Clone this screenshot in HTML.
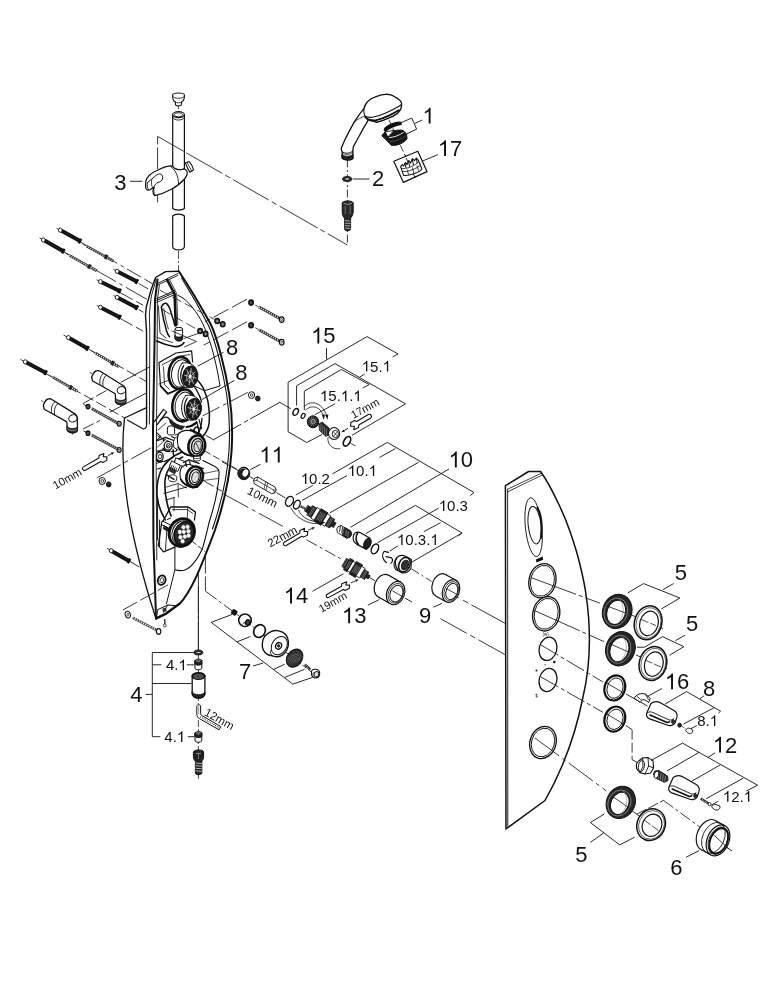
<!DOCTYPE html>
<html><head><meta charset="utf-8"><title>Exploded view</title>
<style>
html,body{margin:0;padding:0;background:#fff;}
body{width:777px;height:1000px;overflow:hidden;font-family:"Liberation Sans",sans-serif;}
svg{display:block;font-family:"Liberation Sans",sans-serif;}
svg{will-change:transform;filter:grayscale(1);}
</style></head><body>
<svg width="777" height="1000" viewBox="0 0 777 1000">
<rect width="777" height="1000" fill="#fff"/>
<path d="M172.6 95 C172.6 92.4 184.4 92.4 184.4 95 L184.2 98.5 C183.5 100.8 182.3 101.5 181.6 102 L181.3 105 C180.5 106.2 176.3 106.2 175.6 105 L175.3 102 C174.5 101.5 173.3 100.8 172.8 98.5 Z" stroke="#111" stroke-width="1.1" fill="#fff" stroke-linejoin="round" stroke-linecap="round" />
<path d="M172.8 96.5 C174 99 183 99 184.3 96.5" stroke="#111" stroke-width="0.8" fill="none" stroke-linejoin="round" stroke-linecap="round" />
<path d="M175.3 102 C176.5 103.2 180.5 103.2 181.6 102" stroke="#111" stroke-width="0.8" fill="none" stroke-linejoin="round" stroke-linecap="round" />
<line x1="178.4" y1="106" x2="178.4" y2="112" stroke="#222" stroke-width="0.8" stroke-linecap="butt" stroke-dasharray="3 2"/>
<path d="M172.7 114.5 L172.7 208.5 C175 210.6 182 210.6 184.4 208.5 L184.4 114.5" stroke="#111" stroke-width="1.2" fill="#fff" stroke-linejoin="round" stroke-linecap="round" />
<ellipse cx="178.5" cy="114.6" rx="5.85" ry="3" stroke="#111" stroke-width="1.2" fill="#fff"/>
<ellipse cx="178.5" cy="114.8" rx="4.2" ry="2" stroke="#111" stroke-width="0.8" fill="none"/>
<path d="M172.7 117.5 C174 121 183 121 184.4 117.5" stroke="#111" stroke-width="0.9" fill="none" stroke-linejoin="round" stroke-linecap="round" />
<path d="M172.7 216 C175 213.4 182 213.4 184.4 216 L184.4 246.5 C184 251 173 251 172.7 246.5 Z" stroke="#111" stroke-width="1.2" fill="#fff" stroke-linejoin="round" stroke-linecap="round" />
<line x1="157.6" y1="136.4" x2="157.6" y2="203" stroke="#222" stroke-width="0.9" stroke-linecap="butt" stroke-dasharray="8 3 22 3 30"/>
<path d="M157.6 136.4 L347.4 245" stroke="#222" stroke-width="0.9" fill="none" stroke-linejoin="round" stroke-linecap="butt" stroke-dasharray="30 3 41.5 3.5 5.5 3.5 41 3.5 5.5 3.5 44 3 5 3.5 30" />
<path d="M145.8 181 C147 177 152 172.5 158 170 C164 167 169 165.6 172.5 166 L173 167 C175 169.8 181 170.5 184.2 168.8 L186.6 170.5 C188 173 187 176 184.5 179 C178 186.5 166 193.5 154.5 195.6 C153 193.5 152.8 190 153.8 187.2 L150 189.8 C147.5 190.8 146 189.5 145.6 187 Z" stroke="#111" stroke-width="1.2" fill="#fff" stroke-linejoin="round" stroke-linecap="round" />
<path d="M170.5 166.5 C175 169 178.8 176 178.5 184.5" stroke="#111" stroke-width="0.9" fill="none" stroke-linejoin="round" stroke-linecap="round" />
<path d="M172.6 166.3 C174 169.5 181 170.8 184.4 168.6" stroke="#111" stroke-width="0.9" fill="none" stroke-linejoin="round" stroke-linecap="round" />
<path d="M153.8 187.2 C154.5 185 156 183.2 158 182.4 C161.5 182 163.6 178.5 162.4 175.8 C161 173 157.5 173.6 155.5 176 L147.5 182.5" stroke="#111" stroke-width="1.0" fill="none" stroke-linejoin="round" stroke-linecap="round" />
<path d="M147.5 182.5 C146.8 185 147.2 188 148.6 189.6" stroke="#111" stroke-width="0.9" fill="none" stroke-linejoin="round" stroke-linecap="round" />
<path d="M151.8 179.5 C151 182.5 151.5 186 152.6 188" stroke="#111" stroke-width="0.8" fill="none" stroke-linejoin="round" stroke-linecap="round" />
<path d="M154.7 195.5 C153.6 193 153.4 190 154.2 187.4" stroke="#111" stroke-width="0.9" fill="none" stroke-linejoin="round" stroke-linecap="round" />
<path d="M185.3 163 L189.3 161.6 C191 163.5 193 167 193.6 169.8 L189.8 172.2 C188.8 170.5 186.6 166 185.3 163 Z" stroke="#111" stroke-width="1.1" fill="#fff" stroke-linejoin="round" stroke-linecap="round" />
<path d="M187 162.4 C188.5 165 190.5 168.5 191.6 171" stroke="#111" stroke-width="0.8" fill="none" stroke-linejoin="round" stroke-linecap="round" />
<line x1="130" y1="181.3" x2="142.4" y2="181.3" stroke="#111" stroke-width="0.9" stroke-linecap="butt"/>
<line x1="178.5" y1="251" x2="178.5" y2="272" stroke="#222" stroke-width="0.8" stroke-linecap="butt" stroke-dasharray="8 2 2 2"/>
<path d="M364 108.3 C364.6 106 365.6 104 366.9 102.5 C369 99.6 372 98 375.5 96.8 C378.6 95.4 382 94.5 385.2 94.3 C388.6 94 392 94.8 394.8 96.8 C397.4 98 399.4 99.4 400.6 101.1 C401.4 102.2 401.7 103.4 401.6 104.5 L401 108.6 C400 110.6 398.8 112 397.7 113.2 C394 116 391 117.4 389 118 C384 120.2 380 121.6 376.5 122.3 L374.6 121.4 C372 121.2 369.6 120.4 367.8 119.4 L367.8 120.9 C364.6 126 361.8 131 359.1 136.3 C357 140 355 143.6 353.3 146.9 L352.9 150.8 L352.9 158.6 C351 160.6 344 160.4 342.2 158.4 L342.2 151.8 C341.4 150.6 341.2 149.2 341.3 147.9 C342.4 145.4 343.6 142.6 344.7 140.2 C347.6 134 351 128 354.3 121.9 C357.4 117 360.6 112.4 364 108.3 Z" stroke="#111" stroke-width="1.3" fill="#fff" stroke-linejoin="round" stroke-linecap="round" />
<path d="M364 108.3 C363.4 111 363.8 113.8 364.9 116.1 C367.6 117.6 370.6 117.6 373.6 117 C377.6 116.2 381.6 114.8 385.2 113.2 C389.2 111.4 393.2 109.4 396.8 107.4 C398.6 106.4 400.4 105.4 401.6 104.5" stroke="#111" stroke-width="1.1" fill="none" stroke-linejoin="round" stroke-linecap="round" />
<path d="M365.4 117.2 C366.2 118.2 367 118.8 367.8 119.2 C370.2 120.2 372.8 120.6 375.5 120.4 C380 119.4 384.6 117.6 389 115.6 C392.4 114 395.6 112.2 398.7 110.3" stroke="#111" stroke-width="1.9" fill="none" stroke-linejoin="round" stroke-linecap="round" />
<path d="M374.6 121.4 L376.5 122.3 C380.6 121.4 385 119.8 389 118 C392 116.6 395 115 397.7 113.2" stroke="#111" stroke-width="0.9" fill="none" stroke-linejoin="round" stroke-linecap="round" />
<path d="M364.9 116.1 C361 117.4 357.4 119.4 354.3 121.9" stroke="#111" stroke-width="0.8" fill="none" stroke-linejoin="round" stroke-linecap="round" />
<path d="M342.2 151.8 C345 154 350.4 153.8 352.9 150.8" stroke="#111" stroke-width="1.0" fill="none" stroke-linejoin="round" stroke-linecap="round" />
<path d="M342.2 155 C345 157 350.6 156.8 352.9 154.4 L352.9 158.6 C351 160.6 344 160.4 342.2 158.4 Z" stroke="#111" stroke-width="1.0" fill="#222" stroke-linejoin="round" stroke-linecap="round" />
<path d="M342.2 153.2 C345 155.2 350.4 155 352.9 152.6" stroke="#111" stroke-width="0.7" fill="none" stroke-linejoin="round" stroke-linecap="round" />
<line x1="347.4" y1="159.5" x2="347.4" y2="245" stroke="#222" stroke-width="0.9" stroke-linecap="butt" stroke-dasharray="8 2.5 2 2.5"/>
<ellipse cx="347.2" cy="179" rx="4.7" ry="2.5" stroke="#111" stroke-width="0.8" fill="#2a2a2a"/>
<ellipse cx="347.2" cy="179" rx="2.2" ry="0.9" stroke="#111" stroke-width="0.5" fill="#fff"/>
<line x1="353" y1="179" x2="369.5" y2="179" stroke="#111" stroke-width="0.9" stroke-linecap="butt"/>
<path d="M342.2 203 C342.2 200.2 353.2 200.2 353.2 203 L353.2 212 C353 215 351.5 217 350.6 218.2 L350.6 229.5 C349.5 231.2 345.5 231.2 344.6 229.5 L344.6 218.2 C343.5 217 342.2 215 342.2 212 Z" stroke="#111" stroke-width="1.0" fill="#2a2a2a" stroke-linejoin="round" stroke-linecap="round" />
<line x1="344.6" y1="220.5" x2="350.6" y2="221.1" stroke="#ddd" stroke-width="0.7" stroke-linecap="butt"/>
<line x1="344.6" y1="223" x2="350.6" y2="223.6" stroke="#ddd" stroke-width="0.7" stroke-linecap="butt"/>
<line x1="344.6" y1="225.5" x2="350.6" y2="226.1" stroke="#ddd" stroke-width="0.7" stroke-linecap="butt"/>
<line x1="344.6" y1="228" x2="350.6" y2="228.6" stroke="#ddd" stroke-width="0.7" stroke-linecap="butt"/>
<path d="M344 203.5 C346 204.6 349.5 204.6 351.5 203.5" stroke="#ccc" stroke-width="0.7" fill="none" stroke-linejoin="round" stroke-linecap="round" />
<line x1="345.2" y1="206" x2="345.2" y2="214" stroke="#999" stroke-width="0.6" stroke-linecap="butt"/>
<line x1="350.2" y1="206" x2="350.2" y2="214" stroke="#999" stroke-width="0.6" stroke-linecap="butt"/>
<line x1="388.9" y1="119.7" x2="415" y2="177.7" stroke="#222" stroke-width="0.9" stroke-linecap="butt" stroke-dasharray="7 2.5 2 2.5"/>
<path d="M384.2 129.4 C386 125.6 396 121.4 400.8 122.4 L401.2 124.4 C397 124.6 388 128.4 385.4 131.6 Z" stroke="#111" stroke-width="1.2" fill="#111" stroke-linejoin="round" stroke-linecap="round" />
<path d="M385.4 131.8 L394 130.4 L394.2 134.4 L387.8 137.4 L382.4 135.6 Z" stroke="#111" stroke-width="0.9" fill="#fff" stroke-linejoin="round" stroke-linecap="round" />
<path d="M382.2 135.6 L385.4 132 L387.8 137.2 C392 137.4 400 134 403 130.4 L406.6 134 L407 138.8 C405 141.6 401.6 143.6 399 144.4 C396 145.4 393 145.6 391 145.2 L389.8 143.6 Z" stroke="#111" stroke-width="1.0" fill="#161616" stroke-linejoin="round" stroke-linecap="round" />
<path d="M394 130.6 C397 130 401 129.6 403 130.4 L403.2 132 C400 135.2 392 137.6 388 137.2 Z" stroke="#111" stroke-width="0.8" fill="#161616" stroke-linejoin="round" stroke-linecap="round" />
<path d="M389.6 137.6 C394 137.4 400 135 403.2 132.6" stroke="#fff" stroke-width="0.9" fill="none" stroke-linejoin="round" stroke-linecap="round" />
<path d="M390.4 141.6 C395 141.6 402 138.6 406.2 135.6" stroke="#777" stroke-width="0.5" fill="none" stroke-linejoin="round" stroke-linecap="round" />
<path d="M400.8 122.8 L411.8 118 L416.6 129.2 L407.2 133.6" stroke="#111" stroke-width="0.9" fill="none" stroke-linejoin="round" stroke-linecap="round" />
<line x1="414.6" y1="123.6" x2="422.2" y2="120" stroke="#111" stroke-width="0.9" stroke-linecap="butt"/>
<path d="M393.8 161.2 L417.8 151.2 L427 171.6 L403.4 182.4 Z" stroke="#111" stroke-width="1.2" fill="none" stroke-linejoin="round" stroke-linecap="round" />
<line x1="405.4" y1="155" x2="406.2" y2="157" stroke="#111" stroke-width="1.0" stroke-linecap="butt"/>
<line x1="414.6" y1="175.8" x2="415.4" y2="177.8" stroke="#111" stroke-width="1.0" stroke-linecap="butt"/>
<path d="M400.6 166.6 L402.2 164.6 L403.6 166 L405.4 162.6 L407 164.6 L408.8 160.6 L410.6 163 L412.4 158.6 L414.4 160.6 L416.4 158 L418.4 160.4 L421.8 168.8 C421 171.6 409 176.4 403.6 175.4 Z" stroke="#111" stroke-width="1.1" fill="#fff" stroke-linejoin="round" stroke-linecap="round" />
<path d="M401.6 168.4 C406 169.6 415 166 418.8 161.6" stroke="#111" stroke-width="0.8" fill="none" stroke-linejoin="round" stroke-linecap="round" />
<path d="M402.4 171.4 C407 172.6 417 168.6 420.6 165" stroke="#111" stroke-width="0.8" fill="none" stroke-linejoin="round" stroke-linecap="round" />
<line x1="407.2" y1="169.6" x2="408.6" y2="174.8" stroke="#111" stroke-width="0.8" stroke-linecap="butt"/>
<line x1="412.4" y1="167.6" x2="413.8" y2="173" stroke="#111" stroke-width="0.8" stroke-linecap="butt"/>
<line x1="417" y1="165.4" x2="418.4" y2="170.6" stroke="#111" stroke-width="0.8" stroke-linecap="butt"/>
<path d="M405 163.4 L406 167.6 M408.6 161.6 L409.6 166.4 M412.4 159.6 L413.4 164.6 M416.4 159 L417.2 163" stroke="#111" stroke-width="1.0" fill="none" stroke-linejoin="round" stroke-linecap="round" />
<line x1="422.2" y1="161.2" x2="438" y2="154.6" stroke="#111" stroke-width="0.9" stroke-linecap="butt"/>
<path d="M146.6 407.7 L124.5 418 C122 440 122.5 470 127 500 C131 530 139 562 148.6 595 C151 603 154 612 156 618.8" stroke="#111" stroke-width="1.3" fill="none" stroke-linejoin="round" stroke-linecap="round" />
<path d="M127.3 420 L143.4 429 C145.5 428.6 146.6 427 146.6 424.5" stroke="#111" stroke-width="1.1" fill="none" stroke-linejoin="round" stroke-linecap="round" />
<path d="M178.8 271.3 L165.7 271.6 L155.6 277.5 L151 290 L146.3 307 L145.5 315 L146.5 332 L146.6 424.5" stroke="#111" stroke-width="1.4" fill="none" stroke-linejoin="round" stroke-linecap="round" />
<path d="M156.2 279 L151.4 296 L149.4 313 L149.8 335 L149.4 424" stroke="#111" stroke-width="0.9" fill="none" stroke-linejoin="round" stroke-linecap="round" />
<path d="M157.6 279.5 L155 300 L154.6 340 L153 430 L153.4 540 L156 617" stroke="#111" stroke-width="2.0" fill="none" stroke-linejoin="round" stroke-linecap="round" />
<path d="M159.4 285 L157.4 300 L157.2 345 L156.2 470 L156.8 560" stroke="#111" stroke-width="0.9" fill="none" stroke-linejoin="round" stroke-linecap="round" />
<path d="M178.8 271.3 C188 285 199 303 210.6 324 C217 337 225 368 229.2 393.8 C232 412 233 430 231.5 452 C229.5 480 224 503 215 530 C209 546 202 564 196.5 576.3 C191 588 186 597 179.5 604 L165.6 614.2 L156 618.8" stroke="#111" stroke-width="2.0" fill="none" stroke-linejoin="round" stroke-linecap="round" />
<path d="M181.6 278 C190 291.5 198 305 208 324.6 C214.4 338 222.4 368 226.6 394 C229.4 412 230.4 430 228.9 452 C226.9 479.6 221.5 502.4 212.5 529" stroke="#111" stroke-width="1.1" fill="none" stroke-linejoin="round" stroke-linecap="round" />
<path d="M157.5 283.5 L178 273.4" stroke="#111" stroke-width="0.9" fill="none" stroke-linejoin="round" stroke-linecap="round" />
<path d="M155.8 286 L177.5 275.5" stroke="#111" stroke-width="0.9" fill="none" stroke-linejoin="round" stroke-linecap="round" />
<path d="M156.8 298.6 L174.7 290.6" stroke="#111" stroke-width="1.0" fill="none" stroke-linejoin="round" stroke-linecap="round" />
<path d="M156.8 300.4 L174.7 292.4" stroke="#111" stroke-width="1.0" fill="none" stroke-linejoin="round" stroke-linecap="round" />
<path d="M156.8 302.4 L174.4 294.6" stroke="#111" stroke-width="0.9" fill="none" stroke-linejoin="round" stroke-linecap="round" />
<path d="M178 295.3 C184 298 188 302 192 307 C197 313 200 318 202.9 324 C208 335 211.5 346 213.7 355 C216.5 366 218.5 376 220 386 L204.4 390.7 L192.5 385" stroke="#111" stroke-width="1.0" fill="none" stroke-linejoin="round" stroke-linecap="round" />
<path d="M167.2 280 L174.6 294 L175.8 325.4" stroke="#111" stroke-width="2.6" fill="none" stroke-linejoin="round" stroke-linecap="round" />
<path d="M169.4 279.4 L176.6 293.4 L177.8 325" stroke="#111" stroke-width="0.8" fill="none" stroke-linejoin="round" stroke-linecap="round" />
<path d="M161.4 307.3 C162.4 304 164.6 302.6 166.4 303.4 C168.6 305.4 170.4 309.6 171.3 313.6 C172.8 318 174 322 174.7 325.2" stroke="#111" stroke-width="1.5" fill="none" stroke-linejoin="round" stroke-linecap="round" />
<path d="M161.4 307.3 C162.6 316 164.6 324.6 166.6 331 C167.4 333.6 168.4 335.4 169.5 336.8" stroke="#111" stroke-width="1.5" fill="none" stroke-linejoin="round" stroke-linecap="round" />
<path d="M163.8 308.6 C164.8 316 166.4 323 168.4 329" stroke="#111" stroke-width="0.8" fill="none" stroke-linejoin="round" stroke-linecap="round" />
<path d="M158.4 306 L160 333 L166 338" stroke="#111" stroke-width="0.9" fill="none" stroke-linejoin="round" stroke-linecap="round" />
<path d="M175 329 C175 327 182.6 327 182.6 329 L182.6 338 C182.6 340.5 175 340.5 175 338 Z" stroke="#111" stroke-width="1.0" fill="#fff" stroke-linejoin="round" stroke-linecap="round" />
<path d="M175 335.5 C176 337.6 181.5 337.6 182.6 335.5 L182.6 339 C181.5 342 176 342 175 339 Z" stroke="#111" stroke-width="0.8" fill="#222" stroke-linejoin="round" stroke-linecap="round" />
<ellipse cx="178.8" cy="329" rx="3.8" ry="1.6" stroke="#111" stroke-width="0.9" fill="#fff"/>
<path d="M156.5 341 C162 343.5 168 345.5 174 346.5 C178 347 182 345.5 184 342.5" stroke="#111" stroke-width="1.6" fill="none" stroke-linejoin="round" stroke-linecap="round" />
<path d="M157 337.5 L172.5 342.5" stroke="#111" stroke-width="0.8" fill="none" stroke-linejoin="round" stroke-linecap="round" />
<path d="M184 338.5 L198 333.5" stroke="#111" stroke-width="0.8" fill="none" stroke-linejoin="round" stroke-linecap="round" />
<path d="M172 331 L196.5 341.5 L184.5 347" stroke="#111" stroke-width="0.8" fill="none" stroke-linejoin="round" stroke-linecap="round" />
<path d="M159 362.5 L176 353 L191.6 350.8 L192.6 362 M159 362.5 L160.5 386 L168 393.8 L176.5 390" stroke="#111" stroke-width="1.2" fill="none" stroke-linejoin="round" stroke-linecap="round" />
<path d="M162 365 L177.5 356.5 L190 354.6" stroke="#111" stroke-width="0.8" fill="none" stroke-linejoin="round" stroke-linecap="round" />
<path d="M163.5 367 L164.5 384.5 L169.5 389.5" stroke="#111" stroke-width="0.8" fill="none" stroke-linejoin="round" stroke-linecap="round" />
<path d="M159 384 L172 379" stroke="#111" stroke-width="0.8" fill="none" stroke-linejoin="round" stroke-linecap="round" />
<path d="M196.9 379.6 C201 384 203.5 388 204.6 391.5 C207 397 208.4 402 208.7 406.9 C209.6 412 209.6 418 209.2 422.4 C208.6 428 206 433 202.9 436.1" stroke="#111" stroke-width="1.5" fill="none" stroke-linejoin="round" stroke-linecap="round" />
<path d="M193.3 385.3 C195.6 388 197.2 391 198.4 393.6 C200 396.6 201 399.4 201.5 401.8" stroke="#111" stroke-width="1.3" fill="none" stroke-linejoin="round" stroke-linecap="round" />
<ellipse cx="180.0" cy="373.0" rx="11.2" ry="16" stroke="#111" stroke-width="2.6" fill="#fff" transform="rotate(8 180.0 373.0)"/>
<ellipse cx="180.79999999999998" cy="373.40000000000003" rx="9.3" ry="13.8" stroke="#111" stroke-width="1.0" fill="#fff" transform="rotate(8 180.79999999999998 373.40000000000003)"/>
<path d="M182.2 363.1 C188.2 361.6 193.2 364.6 195.2 367.6 L193.2 387.1 C188.2 388.6 182.2 387.6 180.2 384.6 C176.2 376.6 178.2 367.6 182.2 363.1 Z" stroke="#111" stroke-width="1.0" fill="#fff" stroke-linejoin="round" stroke-linecap="round" />
<path d="M183.7 365.6 C179.7 371.6 179.7 380.6 184.2 386.1" stroke="#111" stroke-width="1.2" fill="none" stroke-linejoin="round" stroke-linecap="round" />
<ellipse cx="190.2" cy="376.6" rx="7.6" ry="10.6" stroke="#111" stroke-width="1.0" fill="#1c1c1c" transform="rotate(8 190.2 376.6)"/>
<line x1="191.4" y1="376.9" x2="196.3" y2="378.1" stroke="#e8e8e8" stroke-width="0.7" stroke-linecap="butt"/>
<line x1="190.9" y1="377.9" x2="193.8" y2="383.8" stroke="#e8e8e8" stroke-width="0.7" stroke-linecap="butt"/>
<line x1="190.0" y1="378.2" x2="189.1" y2="385.3" stroke="#e8e8e8" stroke-width="0.7" stroke-linecap="butt"/>
<line x1="189.2" y1="377.5" x2="185.1" y2="381.6" stroke="#e8e8e8" stroke-width="0.7" stroke-linecap="butt"/>
<line x1="189.0" y1="376.3" x2="184.1" y2="375.1" stroke="#e8e8e8" stroke-width="0.7" stroke-linecap="butt"/>
<line x1="189.5" y1="375.3" x2="186.6" y2="369.4" stroke="#e8e8e8" stroke-width="0.7" stroke-linecap="butt"/>
<line x1="190.4" y1="375.0" x2="191.3" y2="367.9" stroke="#e8e8e8" stroke-width="0.7" stroke-linecap="butt"/>
<line x1="191.2" y1="375.7" x2="195.3" y2="371.6" stroke="#e8e8e8" stroke-width="0.7" stroke-linecap="butt"/>
<ellipse cx="190.2" cy="376.6" rx="3.6" ry="5.2" stroke="#cfcfcf" stroke-width="0.6" fill="none" transform="rotate(8 190.2 376.6)"/>
<ellipse cx="190.2" cy="376.6" rx="1.2" ry="1.6" stroke="#fff" stroke-width="0.5" fill="#fff" transform="rotate(8 190.2 376.6)"/>
<ellipse cx="183.60000000000002" cy="405.4" rx="11.2" ry="16" stroke="#111" stroke-width="2.6" fill="#fff" transform="rotate(8 183.60000000000002 405.4)"/>
<ellipse cx="184.4" cy="405.8" rx="9.3" ry="13.8" stroke="#111" stroke-width="1.0" fill="#fff" transform="rotate(8 184.4 405.8)"/>
<path d="M185.8 395.5 C191.8 394 196.8 397 198.8 400 L196.8 419.5 C191.8 421 185.8 420 183.8 417 C179.8 409 181.8 400 185.8 395.5 Z" stroke="#111" stroke-width="1.0" fill="#fff" stroke-linejoin="round" stroke-linecap="round" />
<path d="M187.3 398 C183.3 404 183.3 413 187.8 418.5" stroke="#111" stroke-width="1.2" fill="none" stroke-linejoin="round" stroke-linecap="round" />
<ellipse cx="193.8" cy="409" rx="7.6" ry="10.6" stroke="#111" stroke-width="1.0" fill="#1c1c1c" transform="rotate(8 193.8 409)"/>
<line x1="195.0" y1="409.3" x2="199.9" y2="410.5" stroke="#e8e8e8" stroke-width="0.7" stroke-linecap="butt"/>
<line x1="194.5" y1="410.3" x2="197.4" y2="416.2" stroke="#e8e8e8" stroke-width="0.7" stroke-linecap="butt"/>
<line x1="193.6" y1="410.6" x2="192.7" y2="417.7" stroke="#e8e8e8" stroke-width="0.7" stroke-linecap="butt"/>
<line x1="192.8" y1="409.9" x2="188.7" y2="414.0" stroke="#e8e8e8" stroke-width="0.7" stroke-linecap="butt"/>
<line x1="192.6" y1="408.7" x2="187.7" y2="407.5" stroke="#e8e8e8" stroke-width="0.7" stroke-linecap="butt"/>
<line x1="193.1" y1="407.7" x2="190.2" y2="401.8" stroke="#e8e8e8" stroke-width="0.7" stroke-linecap="butt"/>
<line x1="194.0" y1="407.4" x2="194.9" y2="400.3" stroke="#e8e8e8" stroke-width="0.7" stroke-linecap="butt"/>
<line x1="194.8" y1="408.1" x2="198.9" y2="404.0" stroke="#e8e8e8" stroke-width="0.7" stroke-linecap="butt"/>
<ellipse cx="193.8" cy="409" rx="3.6" ry="5.2" stroke="#cfcfcf" stroke-width="0.6" fill="none" transform="rotate(8 193.8 409)"/>
<ellipse cx="193.8" cy="409" rx="1.2" ry="1.6" stroke="#fff" stroke-width="0.5" fill="#fff" transform="rotate(8 193.8 409)"/>
<path d="M202 418.3 C201.8 422 201.3 425 200.5 427.5 C200 430 199.2 432 198.2 433.8" stroke="#111" stroke-width="1.3" fill="none" stroke-linejoin="round" stroke-linecap="round" />
<path d="M202.9 460.5 L214.5 466.3 C217.5 468 219.3 470 219.1 473 C218.6 490 214 507 209.5 521 C207 531 205 540 202.7 547.7 C200 554 197.5 558.5 194.4 562.1 C191 566.5 187.5 569.4 184.1 570.3 C181 571 178 570.6 174.9 569.8" stroke="#111" stroke-width="1.1" fill="none" stroke-linejoin="round" stroke-linecap="round" />
<path d="M204 473.5 L218.6 470.5 M203 480.5 L218.4 478.5" stroke="#111" stroke-width="0.7" fill="none" stroke-linejoin="round" stroke-linecap="round" />
<ellipse cx="171" cy="428" rx="3.6" ry="2.2" stroke="#111" stroke-width="1.0" fill="#fff"/>
<path d="M167.4 428 L167.4 433.5 C167.4 435.5 174.6 435.5 174.6 433.5 L174.6 428" stroke="#111" stroke-width="1.0" fill="#fff" stroke-linejoin="round" stroke-linecap="round" />
<path d="M160.5 420 C163 417 166.5 416.5 169 418.5 L172 424" stroke="#111" stroke-width="1.4" fill="none" stroke-linejoin="round" stroke-linecap="round" />
<path d="M158 430 L166 423 M157.6 436 L168 441 M157.6 447 L165 440" stroke="#111" stroke-width="0.8" fill="none" stroke-linejoin="round" stroke-linecap="round" />
<path d="M175 435 L186 432 L192 436" stroke="#111" stroke-width="0.9" fill="none" stroke-linejoin="round" stroke-linecap="round" />
<ellipse cx="196" cy="432.5" rx="2.6" ry="5.5" stroke="#111" stroke-width="1.6" fill="none" transform="rotate(12 196 432.5)"/>
<path d="M157.4 440.6 L165.4 437.4 L175 441 M157.4 452 L163.6 450 M164 461.6 L172 458 M157.6 469 L160.6 468" stroke="#111" stroke-width="1.2" fill="none" stroke-linejoin="round" stroke-linecap="round" />
<path d="M171.6 436.6 L177.4 439.6 L176.4 451 L171.6 451.6" stroke="#111" stroke-width="1.1" fill="none" stroke-linejoin="round" stroke-linecap="round" />
<path d="M163.4 438.4 L163.4 441 M173 449.6 L173.6 456" stroke="#111" stroke-width="1.4" fill="none" stroke-linejoin="round" stroke-linecap="round" />
<ellipse cx="168.2" cy="445.7" rx="4" ry="4.4" stroke="#111" stroke-width="1.3" fill="#fff"/>
<ellipse cx="168.4" cy="445.8" rx="2" ry="2.2" stroke="#111" stroke-width="0.9" fill="none"/>
<line x1="166.6" y1="444.2" x2="170" y2="447.4" stroke="#111" stroke-width="0.7" stroke-linecap="butt"/>
<line x1="170" y1="444.2" x2="166.6" y2="447.4" stroke="#111" stroke-width="0.7" stroke-linecap="butt"/>
<ellipse cx="159.8" cy="456.5" rx="3.4" ry="4.4" stroke="#111" stroke-width="1.3" fill="#fff"/>
<ellipse cx="160" cy="456.6" rx="1.6" ry="2.2" stroke="#111" stroke-width="0.9" fill="none"/>
<path d="M156.4 451 L164 449.5 M156.4 463.5 L163 461" stroke="#111" stroke-width="0.8" fill="none" stroke-linejoin="round" stroke-linecap="round" />
<path d="M178.6 433.5 C182.6 430 188.6 429.5 192.6 431.5 L201.5 437 L198.5 456.4 L188.4 455.4 C183 454 179.4 450.4 178 446.4 C177 442 177.2 437 178.6 433.5 Z" stroke="#111" stroke-width="1.3" fill="#fff" stroke-linejoin="round" stroke-linecap="round" />
<path d="M176.4 437 C173.5 438.5 172.5 443 174 447.5 L178 450" stroke="#111" stroke-width="1.0" fill="#fff" stroke-linejoin="round" stroke-linecap="round" />
<ellipse cx="196.8" cy="446" rx="8.4" ry="10.6" stroke="#111" stroke-width="2.6" fill="#fff" transform="rotate(10 196.8 446)"/>
<ellipse cx="197.2" cy="446.2" rx="5.6" ry="7.8" stroke="#111" stroke-width="1.5" fill="#fff" transform="rotate(10 197.2 446.2)"/>
<ellipse cx="197.6" cy="446.4" rx="3.6" ry="5.4" stroke="#111" stroke-width="1.0" fill="#ddd" transform="rotate(10 197.6 446.4)"/>
<path d="M195.8 442.6 L199.4 449.8" stroke="#111" stroke-width="0.8" fill="none" stroke-linejoin="round" stroke-linecap="round" />
<path d="M193.5 457 L193.5 460 C195 461.6 199 461.4 200.4 459.8 L200.4 456.5" stroke="#111" stroke-width="0.9" fill="#fff" stroke-linejoin="round" stroke-linecap="round" />
<line x1="193.5" y1="458.6" x2="200.4" y2="458.2" stroke="#111" stroke-width="0.7" stroke-linecap="butt"/>
<path d="M181.2 452.4 C172 455.6 163.6 463.6 160.2 472.5 C157.4 480 156.6 488.6 157.1 495.8 C157.8 503.4 160.2 510.4 163.3 516 L165.4 520" stroke="#111" stroke-width="1.6" fill="none" stroke-linejoin="round" stroke-linecap="round" />
<path d="M182.7 457 C177 459.4 172.4 463 169.5 467.9 C166.6 472 165.2 477 164.9 481.8 C164.6 489.6 165.6 497.4 167.2 503.5 C168.2 508 169.6 512.2 171.1 515.9" stroke="#111" stroke-width="1.6" fill="none" stroke-linejoin="round" stroke-linecap="round" />
<path d="M176 458 L186 462 L184.4 467 L174.6 463 Z" stroke="#111" stroke-width="1.0" fill="#fff" stroke-linejoin="round" stroke-linecap="round" />
<path d="M172 461 L180.5 465.5 L177.6 471.5 L169.6 467 Z" stroke="#111" stroke-width="1.0" fill="#fff" stroke-linejoin="round" stroke-linecap="round" />
<line x1="170.6" y1="468.4" x2="172.2" y2="465.0" stroke="#111" stroke-width="0.8" stroke-linecap="butt"/>
<line x1="172.2" y1="469.29999999999995" x2="173.79999999999998" y2="465.9" stroke="#111" stroke-width="0.8" stroke-linecap="butt"/>
<line x1="173.79999999999998" y1="470.2" x2="175.39999999999998" y2="466.8" stroke="#111" stroke-width="0.8" stroke-linecap="butt"/>
<line x1="175.4" y1="471.09999999999997" x2="177.0" y2="467.7" stroke="#111" stroke-width="0.8" stroke-linecap="butt"/>
<path d="M169 476 C171 474 175.5 474.5 177 477 L176.4 480.5 C174 482.5 170 482 168.6 480 Z" stroke="#111" stroke-width="0.9" fill="#fff" stroke-linejoin="round" stroke-linecap="round" />
<path d="M166.5 487 L178 483.5 L186.6 488 M178 483.5 L178.4 497" stroke="#111" stroke-width="0.8" fill="none" stroke-linejoin="round" stroke-linecap="round" />
<path d="M181.5 467.5 C184.5 464.5 189 464 192.5 465.5 L199.5 469 L197.5 487.5 L190 486.5 C185.5 485.5 182 482.5 180.6 478.5 C179.6 475 180 470.5 181.5 467.5 Z" stroke="#111" stroke-width="1.1" fill="#fff" stroke-linejoin="round" stroke-linecap="round" />
<ellipse cx="194.6" cy="476.8" rx="8.2" ry="10.4" stroke="#111" stroke-width="2.6" fill="#fff" transform="rotate(14 194.6 476.8)"/>
<ellipse cx="195" cy="477" rx="5.6" ry="7.8" stroke="#111" stroke-width="1.5" fill="#fff" transform="rotate(14 195 477)"/>
<ellipse cx="195.4" cy="477.2" rx="3.6" ry="5.4" stroke="#111" stroke-width="1.0" fill="#ddd" transform="rotate(14 195.4 477.2)"/>
<path d="M199 467 L203.4 468.6 M201.6 472 L204 472.8" stroke="#111" stroke-width="1.2" fill="none" stroke-linejoin="round" stroke-linecap="round" />
<path d="M164 493.5 L186.6 487 M166 500 L174.4 497.5" stroke="#111" stroke-width="0.9" fill="none" stroke-linejoin="round" stroke-linecap="round" />
<path d="M174 497.5 L174 511" stroke="#111" stroke-width="0.8" fill="none" stroke-linejoin="round" stroke-linecap="round" />
<path d="M170.7 507 L188.2 507 L195.5 512.1 L194.4 520 M170.7 507 L161.5 524 L158.4 545.6 L163.5 551.8 L174.9 547.1" stroke="#111" stroke-width="1.3" fill="none" stroke-linejoin="round" stroke-linecap="round" />
<path d="M172.4 509.6 L187.4 509.6 L192.6 513.4 M187.8 507.4 L187.2 519" stroke="#111" stroke-width="0.8" fill="none" stroke-linejoin="round" stroke-linecap="round" />
<path d="M161.5 524 L167 527.5 L165.5 549.5" stroke="#111" stroke-width="0.9" fill="none" stroke-linejoin="round" stroke-linecap="round" />
<path d="M167.4 519.5 L170.6 518" stroke="#111" stroke-width="1.0" fill="none" stroke-linejoin="round" stroke-linecap="round" />
<path d="M162.5 521 L170.5 525 L169 528.5 L161.6 524.6 Z" stroke="#111" stroke-width="1.0" fill="#fff" stroke-linejoin="round" stroke-linecap="round" />
<path d="M164.5 526 L171.6 529.8 L170.4 532.4 L163.8 529 Z" stroke="#111" stroke-width="1.0" fill="#222" stroke-linejoin="round" stroke-linecap="round" />
<ellipse cx="181.8" cy="532.6" rx="12.4" ry="14.2" stroke="#111" stroke-width="2.8" fill="#fff" transform="rotate(24 181.8 532.6)"/>
<ellipse cx="182.8" cy="533" rx="10.6" ry="12.6" stroke="#111" stroke-width="1.0" fill="#fff" transform="rotate(24 182.8 533)"/>
<ellipse cx="184" cy="533.6" rx="9.6" ry="12" stroke="#111" stroke-width="1.6" fill="#2a2a2a" transform="rotate(24 184 533.6)"/>
<ellipse cx="183.4" cy="527.2" rx="1.7" ry="1.9" stroke="#fff" stroke-width="0.5" fill="#fff"/>
<ellipse cx="187.6" cy="526.8000000000001" rx="1.7" ry="1.9" stroke="#fff" stroke-width="0.5" fill="#fff"/>
<ellipse cx="179.8" cy="532.0" rx="1.7" ry="1.9" stroke="#fff" stroke-width="0.5" fill="#fff"/>
<ellipse cx="183.8" cy="531.8000000000001" rx="1.7" ry="1.9" stroke="#fff" stroke-width="0.5" fill="#fff"/>
<ellipse cx="188.4" cy="531.2" rx="1.7" ry="1.9" stroke="#fff" stroke-width="0.5" fill="#fff"/>
<ellipse cx="180.4" cy="537.2" rx="1.7" ry="1.9" stroke="#fff" stroke-width="0.5" fill="#fff"/>
<ellipse cx="184.8" cy="536.6" rx="1.7" ry="1.9" stroke="#fff" stroke-width="0.5" fill="#fff"/>
<ellipse cx="182.6" cy="541.2" rx="1.7" ry="1.9" stroke="#fff" stroke-width="0.5" fill="#fff"/>
<ellipse cx="188.6" cy="535.6" rx="1.7" ry="1.9" stroke="#fff" stroke-width="0.5" fill="#fff"/>
<path d="M174.9 547.1 L174.9 569.8 L166.4 604" stroke="#111" stroke-width="1.0" fill="none" stroke-linejoin="round" stroke-linecap="round" />
<path d="M157.9 609.5 L167.9 605 L176.4 605.7 L179.5 604" stroke="#111" stroke-width="1.0" fill="none" stroke-linejoin="round" stroke-linecap="round" />
<path d="M157.9 609.5 L156.4 617.8" stroke="#111" stroke-width="0.9" fill="none" stroke-linejoin="round" stroke-linecap="round" />
<path d="M167.9 605 L163.5 612.4" stroke="#111" stroke-width="0.8" fill="none" stroke-linejoin="round" stroke-linecap="round" />
<polygon points="162.4,608.4 166,607.6 166.6,611.2 163,612.2" fill="#333"/>
<path d="M156.4 617.8 L165.6 613.4 L179 603.6" stroke="#111" stroke-width="1.6" fill="none" stroke-linejoin="round" stroke-linecap="round" />
<ellipse cx="161.7" cy="580.2" rx="3.8" ry="4.8" stroke="#111" stroke-width="1.8" fill="#fff" transform="rotate(20 161.7 580.2)"/>
<ellipse cx="161.9" cy="580.2" rx="1.8" ry="2.6" stroke="#111" stroke-width="0.8" fill="none" transform="rotate(20 161.9 580.2)"/>
<path d="M154.4 421.6 L163.6 409.4 M157.4 424.4 L166.6 412" stroke="#111" stroke-width="1.3" fill="none" stroke-linejoin="round" stroke-linecap="round" />
<path d="M163.6 409.4 L166.6 412" stroke="#111" stroke-width="1.0" fill="none" stroke-linejoin="round" stroke-linecap="round" />
<path d="M171 419.6 C174 423.6 179 426 184.6 426.4 L182 429.6 C177 429 172.6 426.4 170 422.4 Z" stroke="#111" stroke-width="0.8" fill="#222" stroke-linejoin="round" stroke-linecap="round" />
<path d="M186.6 427 C190 426.6 193.6 425 196.4 422.6" stroke="#111" stroke-width="2.2" fill="none" stroke-linejoin="round" stroke-linecap="round" />
<path d="M199 419.6 L201.6 428.6 M196.6 421.6 L198.6 429" stroke="#111" stroke-width="1.2" fill="none" stroke-linejoin="round" stroke-linecap="round" />
<path d="M190.6 429.6 L201 434.4" stroke="#111" stroke-width="1.6" fill="none" stroke-linejoin="round" stroke-linecap="round" />
<path d="M183.6 462.4 L189 459.8 L199 463.4" stroke="#111" stroke-width="1.4" fill="none" stroke-linejoin="round" stroke-linecap="round" />
<path d="M186 463.6 L186.6 466.4 M189.6 461.6 L190.4 464.6" stroke="#111" stroke-width="1.2" fill="none" stroke-linejoin="round" stroke-linecap="round" />
<polygon points="170.4,467.2 176.6,470.6 175,474.6 168.6,471" fill="#333"/>
<path d="M166.4 474.6 L174 479.4" stroke="#111" stroke-width="1.4" fill="none" stroke-linejoin="round" stroke-linecap="round" />
<path d="M163.2 448.4 C164.4 451 167.4 452 170 451" stroke="#111" stroke-width="1.6" fill="none" stroke-linejoin="round" stroke-linecap="round" />
<path d="M156.6 459.6 C157.6 462 160 462.6 162.4 461.4" stroke="#111" stroke-width="1.6" fill="none" stroke-linejoin="round" stroke-linecap="round" />
<path d="M156.6 432.6 L160.6 436.4 L156.8 440.4" stroke="#111" stroke-width="1.1" fill="none" stroke-linejoin="round" stroke-linecap="round" />
<path d="M178.4 447.4 C181 452 186 455 191.4 455.8" stroke="#111" stroke-width="1.8" fill="none" stroke-linejoin="round" stroke-linecap="round" />
<path d="M181 479.6 C183.6 484 188 486.6 193 487.4" stroke="#111" stroke-width="1.8" fill="none" stroke-linejoin="round" stroke-linecap="round" />
<path d="M160.6 386 L168 393.8 L176.4 390" stroke="#111" stroke-width="1.8" fill="none" stroke-linejoin="round" stroke-linecap="round" />
<path d="M157.6 500 L157.6 540 M159.6 520 L159.6 546" stroke="#111" stroke-width="1.0" fill="none" stroke-linejoin="round" stroke-linecap="round" />
<line x1="56.6" y1="228.2" x2="152.7" y2="283.9" stroke="#222" stroke-width="0.9" stroke-linecap="butt" stroke-dasharray="58 0 0 0 12 4 3.5 4 16 4"/>
<line x1="39.6" y1="237.9" x2="148.2" y2="300.1" stroke="#222" stroke-width="0.9" stroke-linecap="butt" stroke-dasharray="70 0 18 4 3.5 4 24 4"/>
<line x1="113.4" y1="269.3" x2="150.4" y2="290.2" stroke="#222" stroke-width="0.9" stroke-linecap="butt" stroke-dasharray="11 3.5"/>
<line x1="96.7" y1="279.8" x2="145.9" y2="306.8" stroke="#222" stroke-width="0.9" stroke-linecap="butt" stroke-dasharray="38 0 0 0 0 0 3 4 8 4"/>
<line x1="113.4" y1="295.4" x2="143.6" y2="312.3" stroke="#222" stroke-width="0.9" stroke-linecap="butt" stroke-dasharray="11 3.5"/>
<line x1="96.7" y1="305.4" x2="145.5" y2="332.5" stroke="#222" stroke-width="0.9" stroke-linecap="butt" stroke-dasharray="38 0 0 0 0 0 3 4 8 4"/>
<line x1="63.5" y1="335" x2="146.4" y2="381.5" stroke="#222" stroke-width="0.9" stroke-linecap="butt" stroke-dasharray="11 3.5"/>
<line x1="20.5" y1="359.4" x2="125.4" y2="418.3" stroke="#222" stroke-width="0.9" stroke-linecap="butt" stroke-dasharray="11 3.5"/>
<line x1="61.53" y1="230.86" x2="81" y2="241.6" stroke="#111" stroke-width="4.0" stroke-linecap="butt"/>
<line x1="78.9" y1="240.44" x2="81" y2="241.6" stroke="#111" stroke-width="5.2" stroke-linecap="butt"/>
<ellipse cx="60.30055761925544" cy="230.18628878071095" rx="1.9" ry="2.1" stroke="#111" stroke-width="0.9" fill="#fff"/>
<line x1="61.53" y1="230.86" x2="78.9" y2="240.44" stroke="#777" stroke-width="0.5" stroke-linecap="butt" stroke-dasharray="0.6 1.6"/>
<line x1="44.52" y1="240.58" x2="64.3" y2="251.7" stroke="#111" stroke-width="4.0" stroke-linecap="butt"/>
<line x1="62.21" y1="250.52" x2="64.3" y2="251.7" stroke="#111" stroke-width="5.2" stroke-linecap="butt"/>
<ellipse cx="43.297346235541134" cy="239.89205640892175" rx="1.9" ry="2.1" stroke="#111" stroke-width="0.9" fill="#fff"/>
<line x1="44.52" y1="240.58" x2="62.21" y2="250.52" stroke="#777" stroke-width="0.5" stroke-linecap="butt" stroke-dasharray="0.6 1.6"/>
<line x1="118.35" y1="271.92" x2="137.8" y2="282.1" stroke="#111" stroke-width="4.0" stroke-linecap="butt"/>
<line x1="135.67" y1="280.99" x2="137.8" y2="282.1" stroke="#111" stroke-width="5.2" stroke-linecap="butt"/>
<ellipse cx="117.10879484115127" cy="271.27095804770534" rx="1.9" ry="2.1" stroke="#111" stroke-width="0.9" fill="#fff"/>
<line x1="118.35" y1="271.92" x2="135.67" y2="280.99" stroke="#777" stroke-width="0.5" stroke-linecap="butt" stroke-dasharray="0.6 1.6"/>
<line x1="101.68" y1="282.26" x2="120.7" y2="291.5" stroke="#111" stroke-width="4.0" stroke-linecap="butt"/>
<line x1="118.54" y1="290.45" x2="120.7" y2="291.5" stroke="#111" stroke-width="5.2" stroke-linecap="butt"/>
<ellipse cx="100.4196065268608" cy="281.6495231701895" rx="1.9" ry="2.1" stroke="#111" stroke-width="0.9" fill="#fff"/>
<line x1="101.68" y1="282.26" x2="118.54" y2="290.45" stroke="#777" stroke-width="0.5" stroke-linecap="butt" stroke-dasharray="0.6 1.6"/>
<line x1="118.35" y1="298.02" x2="137.8" y2="308.2" stroke="#111" stroke-width="4.0" stroke-linecap="butt"/>
<line x1="135.67" y1="307.09" x2="137.8" y2="308.2" stroke="#111" stroke-width="5.2" stroke-linecap="butt"/>
<ellipse cx="117.10879484115127" cy="297.37095804770536" rx="1.9" ry="2.1" stroke="#111" stroke-width="0.9" fill="#fff"/>
<line x1="118.35" y1="298.02" x2="135.67" y2="307.09" stroke="#777" stroke-width="0.5" stroke-linecap="butt" stroke-dasharray="0.6 1.6"/>
<line x1="101.66" y1="307.91" x2="120.7" y2="317.7" stroke="#111" stroke-width="4.0" stroke-linecap="butt"/>
<line x1="118.57" y1="316.6" x2="120.7" y2="317.7" stroke="#111" stroke-width="5.2" stroke-linecap="butt"/>
<ellipse cx="100.41143024185452" cy="307.2658784100966" rx="1.9" ry="2.1" stroke="#111" stroke-width="0.9" fill="#fff"/>
<line x1="101.66" y1="307.91" x2="118.57" y2="316.6" stroke="#777" stroke-width="0.5" stroke-linecap="butt" stroke-dasharray="0.6 1.6"/>
<line x1="69.62" y1="338.28" x2="88.5" y2="348.9" stroke="#111" stroke-width="4.0" stroke-linecap="butt"/>
<line x1="86.41" y1="347.72" x2="88.5" y2="348.9" stroke="#111" stroke-width="5.2" stroke-linecap="butt"/>
<ellipse cx="68.39726042969964" cy="337.59220899170606" rx="1.9" ry="2.1" stroke="#111" stroke-width="0.9" fill="#fff"/>
<line x1="69.62" y1="338.28" x2="86.41" y2="347.72" stroke="#777" stroke-width="0.5" stroke-linecap="butt" stroke-dasharray="0.6 1.6"/>
<line x1="26.45" y1="362.53" x2="46.7" y2="373.2" stroke="#111" stroke-width="4.0" stroke-linecap="butt"/>
<line x1="44.58" y1="372.08" x2="46.7" y2="373.2" stroke="#111" stroke-width="5.2" stroke-linecap="butt"/>
<ellipse cx="25.207727008765872" cy="361.8729912613766" rx="1.9" ry="2.1" stroke="#111" stroke-width="0.9" fill="#fff"/>
<line x1="26.45" y1="362.53" x2="44.58" y2="372.08" stroke="#777" stroke-width="0.5" stroke-linecap="butt" stroke-dasharray="0.6 1.6"/>
<line x1="82.5" y1="243.9" x2="86.44" y2="246.07" stroke="#333" stroke-width="0.9" stroke-linecap="butt"/>
<line x1="86.44" y1="246.07" x2="104.75" y2="256.14" stroke="#333" stroke-width="2.6" stroke-linecap="butt"/>
<line x1="86.44" y1="246.07" x2="104.75" y2="256.14" stroke="#fff" stroke-width="1.3" stroke-linecap="butt" stroke-dasharray="0.9 1.4"/>
<line x1="104.75" y1="256.14" x2="107.55" y2="257.68" stroke="#222" stroke-width="4.6" stroke-linecap="butt"/>
<line x1="107.55" y1="257.68" x2="113.4" y2="260.9" stroke="#333" stroke-width="2.8" stroke-linecap="butt"/>
<line x1="107.55" y1="257.68" x2="113.4" y2="260.9" stroke="#fff" stroke-width="1.4" stroke-linecap="butt" stroke-dasharray="0.9 1.4"/>
<line x1="65.5" y1="253.2" x2="69.42" y2="255.4" stroke="#333" stroke-width="0.9" stroke-linecap="butt"/>
<line x1="69.42" y1="255.4" x2="87.96" y2="265.8" stroke="#333" stroke-width="2.6" stroke-linecap="butt"/>
<line x1="69.42" y1="255.4" x2="87.96" y2="265.8" stroke="#fff" stroke-width="1.3" stroke-linecap="butt" stroke-dasharray="0.9 1.4"/>
<line x1="87.96" y1="265.8" x2="90.75" y2="267.37" stroke="#222" stroke-width="4.6" stroke-linecap="butt"/>
<line x1="90.75" y1="267.37" x2="96.7" y2="270.7" stroke="#333" stroke-width="2.8" stroke-linecap="butt"/>
<line x1="90.75" y1="267.37" x2="96.7" y2="270.7" stroke="#fff" stroke-width="1.4" stroke-linecap="butt" stroke-dasharray="0.9 1.4"/>
<line x1="91.2" y1="350.7" x2="95.09" y2="352.96" stroke="#333" stroke-width="0.9" stroke-linecap="butt"/>
<line x1="95.09" y1="352.96" x2="111.29" y2="362.36" stroke="#333" stroke-width="2.6" stroke-linecap="butt"/>
<line x1="95.09" y1="352.96" x2="111.29" y2="362.36" stroke="#fff" stroke-width="1.3" stroke-linecap="butt" stroke-dasharray="0.9 1.4"/>
<line x1="111.29" y1="362.36" x2="114.06" y2="363.97" stroke="#222" stroke-width="4.6" stroke-linecap="butt"/>
<line x1="114.06" y1="363.97" x2="119.1" y2="366.9" stroke="#333" stroke-width="2.8" stroke-linecap="butt"/>
<line x1="114.06" y1="363.97" x2="119.1" y2="366.9" stroke="#fff" stroke-width="1.4" stroke-linecap="butt" stroke-dasharray="0.9 1.4"/>
<line x1="48.8" y1="375" x2="52.71" y2="377.23" stroke="#333" stroke-width="0.9" stroke-linecap="butt"/>
<line x1="52.71" y1="377.23" x2="69.32" y2="386.74" stroke="#333" stroke-width="2.6" stroke-linecap="butt"/>
<line x1="52.71" y1="377.23" x2="69.32" y2="386.74" stroke="#fff" stroke-width="1.3" stroke-linecap="butt" stroke-dasharray="0.9 1.4"/>
<line x1="69.32" y1="386.74" x2="72.1" y2="388.32" stroke="#222" stroke-width="4.6" stroke-linecap="butt"/>
<line x1="72.1" y1="388.32" x2="77.3" y2="391.3" stroke="#333" stroke-width="2.8" stroke-linecap="butt"/>
<line x1="72.1" y1="388.32" x2="77.3" y2="391.3" stroke="#fff" stroke-width="1.4" stroke-linecap="butt" stroke-dasharray="0.9 1.4"/>
<line x1="83" y1="403.5" x2="107" y2="390.2" stroke="#222" stroke-width="0.9" stroke-linecap="butt" stroke-dasharray="12 3"/>
<line x1="120.9" y1="382.3" x2="149.7" y2="366.9" stroke="#111" stroke-width="0.9" stroke-linecap="butt"/>
<line x1="83" y1="429" x2="100" y2="420.5" stroke="#222" stroke-width="0.9" stroke-linecap="butt" stroke-dasharray="12 3"/>
<line x1="110" y1="412" x2="146.1" y2="393.1" stroke="#111" stroke-width="0.9" stroke-linecap="butt"/>
<ellipse cx="88" cy="406.6" rx="1.9" ry="2.2" stroke="#111" stroke-width="1.3" fill="#555"/>
<line x1="91.5" y1="408.54" x2="117.57" y2="422.95" stroke="#333" stroke-width="2.8" stroke-linecap="butt"/>
<line x1="91.5" y1="408.54" x2="117.57" y2="422.95" stroke="#fff" stroke-width="1.4" stroke-linecap="butt" stroke-dasharray="0.9 1.4"/>
<ellipse cx="119.14978283671157" cy="423.8194451706045" rx="2.0" ry="2.4" stroke="#111" stroke-width="1.2" fill="#fff"/>
<ellipse cx="119.14978283671157" cy="423.8194451706045" rx="0.7" ry="0.9" stroke="#111" stroke-width="0.6" fill="none"/>
<ellipse cx="88" cy="433.2" rx="1.9" ry="2.2" stroke="#111" stroke-width="1.3" fill="#555"/>
<line x1="91.52" y1="435.09" x2="117.56" y2="449.08" stroke="#333" stroke-width="2.8" stroke-linecap="butt"/>
<line x1="91.52" y1="435.09" x2="117.56" y2="449.08" stroke="#fff" stroke-width="1.4" stroke-linecap="butt" stroke-dasharray="0.9 1.4"/>
<ellipse cx="119.14290806334215" cy="449.9320593011124" rx="2.0" ry="2.4" stroke="#111" stroke-width="1.2" fill="#fff"/>
<ellipse cx="119.14290806334215" cy="449.9320593011124" rx="0.7" ry="0.9" stroke="#111" stroke-width="0.6" fill="none"/>
<line x1="83.5" y1="404.5" x2="86" y2="405.6" stroke="#111" stroke-width="0.9" stroke-linecap="butt"/>
<line x1="83.5" y1="431" x2="86" y2="432.2" stroke="#111" stroke-width="0.9" stroke-linecap="butt"/>
<path d="M92.1 379.4 C91.4 377.6 92 375.6 93 374.2 C94 372 95.6 370.7 97.2 370.6 C98.2 370.4 99 370.6 99.8 371 L121 384.2 C123.6 385.6 125.5 387.4 125.7 390 L125.9 402 C124.6 405.6 117.4 405.4 115.6 402 L115.4 395 C115.4 394.2 115.2 393.6 114.4 393.2 L99.5 384.8 L93 381.3 C92.6 380.8 92.3 380.2 92.1 379.4 Z" stroke="#111" stroke-width="1.3" fill="#fff" stroke-linejoin="round" stroke-linecap="round" />
<path d="M103.4 373.4 C100.6 375.6 99.2 379.6 100 384.8" stroke="#111" stroke-width="0.9" fill="none" stroke-linejoin="round" stroke-linecap="round" />
<path d="M106.4 375.2 C103.6 377.4 102.2 381.4 103 386.4" stroke="#111" stroke-width="0.9" fill="none" stroke-linejoin="round" stroke-linecap="round" />
<ellipse cx="121.4" cy="390.2" rx="4.3" ry="3.6" stroke="#111" stroke-width="1.0" fill="none" transform="rotate(-20 121.4 390.2)"/>
<path d="M115.6 398.4 C117.4 401.2 124 401.2 125.9 398.4 L125.9 402 C124.6 405.6 117.4 405.4 115.6 402 Z" stroke="#111" stroke-width="0.9" fill="#333" stroke-linejoin="round" stroke-linecap="round" />
<path d="M116 400.6 C118 403 123.6 403 125.6 400.6" stroke="#bbb" stroke-width="0.6" fill="none" stroke-linejoin="round" stroke-linecap="round" />
<line x1="120.8" y1="404.8" x2="120.8" y2="406.4" stroke="#111" stroke-width="0.8" stroke-linecap="butt"/>
<line x1="89.6" y1="372.4" x2="91.8" y2="373.6" stroke="#111" stroke-width="0.8" stroke-linecap="butt"/>
<path d="M43.7 407.6 C43.0 405.8 43.6 403.8 44.6 402.4 C45.6 400.2 47.2 398.9 48.8 398.8 C49.8 398.6 50.6 398.8 51.4 399.2 L72.6 412.4 C75.2 413.8 77.1 415.6 77.3 418.2 L77.5 430.2 C76.2 433.8 69.0 433.6 67.2 430.2 L67.0 423.2 C67.0 422.4 66.8 421.8 66.0 421.4 L51.1 413.0 L44.6 409.5 C44.2 409.0 43.9 408.4 43.7 407.6 Z" stroke="#111" stroke-width="1.3" fill="#fff" stroke-linejoin="round" stroke-linecap="round" />
<path d="M55.0 401.6 C52.2 403.8 50.8 407.8 51.6 413.0" stroke="#111" stroke-width="0.9" fill="none" stroke-linejoin="round" stroke-linecap="round" />
<path d="M58.0 403.4 C55.2 405.6 53.8 409.6 54.6 414.6" stroke="#111" stroke-width="0.9" fill="none" stroke-linejoin="round" stroke-linecap="round" />
<ellipse cx="73.0" cy="418.4" rx="4.3" ry="3.6" stroke="#111" stroke-width="1.0" fill="none" transform="rotate(-20 73.0 418.4)"/>
<path d="M67.2 426.6 C69.0 429.4 75.6 429.4 77.5 426.6 L77.5 430.2 C76.2 433.8 69.0 433.6 67.2 430.2 Z" stroke="#111" stroke-width="0.9" fill="#333" stroke-linejoin="round" stroke-linecap="round" />
<path d="M67.6 428.8 C69.6 431.2 75.2 431.2 77.2 428.8" stroke="#bbb" stroke-width="0.6" fill="none" stroke-linejoin="round" stroke-linecap="round" />
<line x1="72.4" y1="433.0" x2="72.4" y2="434.6" stroke="#111" stroke-width="0.8" stroke-linecap="butt"/>
<line x1="41.2" y1="400.6" x2="43.4" y2="401.8" stroke="#111" stroke-width="0.8" stroke-linecap="butt"/>
<path d="M83.4 466.87 L98.87 457.96 L99.08 455.53 L103.89 453.46 L103.23 456.72 L107.0 456.86 L106.72 460.37 L102.8 462.39 L100.86 461.43 L85.4 470.33 A2.0 2.0 0 0 1 83.4 466.87 Z" stroke="#111" stroke-width="1.1" fill="#fff" stroke-linejoin="round" stroke-linecap="round" />
<line x1="108" y1="455.6" x2="111.39" y2="453.74" stroke="#111" stroke-width="0.9" stroke-linecap="butt"/>
<polygon points="114.20,452.20 112.02,454.88 110.77,452.60" fill="#111"/>
<text x="55.6" y="489.6" font-size="11.2" text-anchor="start" fill="#111" transform="rotate(-29.3 55.6 489.6)">10mm</text>
<ellipse cx="102.2" cy="481" rx="3.2" ry="3.5" stroke="#111" stroke-width="1.0" fill="#fff"/>
<ellipse cx="102.3" cy="481" rx="1.3" ry="1.5" stroke="#111" stroke-width="0.8" fill="none"/>
<ellipse cx="108.7" cy="484.4" rx="2.3" ry="2.5" stroke="#111" stroke-width="1.0" fill="#222"/>
<line x1="97.1" y1="477.9" x2="151.2" y2="447.8" stroke="#222" stroke-width="0.9" stroke-linecap="butt" stroke-dasharray="27 3.5 5 3.5"/>
<line x1="107" y1="548.4" x2="110" y2="550" stroke="#111" stroke-width="0.8" stroke-linecap="butt"/>
<line x1="112.41" y1="551.4" x2="130" y2="561.5" stroke="#111" stroke-width="4.0" stroke-linecap="butt"/>
<line x1="127.92" y1="560.3" x2="130" y2="561.5" stroke="#111" stroke-width="5.2" stroke-linecap="butt"/>
<ellipse cx="111.19371712501868" cy="550.698442656421" rx="1.9" ry="2.1" stroke="#111" stroke-width="0.9" fill="#fff"/>
<line x1="112.41" y1="551.4" x2="127.92" y2="560.3" stroke="#777" stroke-width="0.5" stroke-linecap="butt" stroke-dasharray="0.6 1.6"/>
<line x1="130" y1="561.5" x2="139.3" y2="567" stroke="#111" stroke-width="0.9" stroke-linecap="butt"/>
<ellipse cx="127.8" cy="614.6" rx="2.6" ry="3.3" stroke="#111" stroke-width="1.0" fill="#fff" transform="rotate(-20 127.8 614.6)"/>
<ellipse cx="127.9" cy="614.6" rx="1" ry="1.3" stroke="#111" stroke-width="0.7" fill="none"/>
<line x1="132.5" y1="617.6" x2="157" y2="630.4" stroke="#444" stroke-width="2.6" stroke-linecap="butt"/>
<line x1="132.5" y1="617.6" x2="157" y2="630.4" stroke="#fff" stroke-width="1.5" stroke-linecap="butt" stroke-dasharray="1.1 1.3"/>
<ellipse cx="158.6" cy="631.4" rx="2.2" ry="2.8" stroke="#111" stroke-width="1.2" fill="#fff"/>
<line x1="123" y1="610" x2="168" y2="584.8" stroke="#222" stroke-width="0.9" stroke-linecap="butt" stroke-dasharray="16 4"/>
<line x1="164.8" y1="619" x2="164.8" y2="624" stroke="#333" stroke-width="1.4" stroke-linecap="butt"/>
<ellipse cx="164.8" cy="625.4" rx="1.3" ry="1.5" stroke="#111" stroke-width="0.8" fill="#fff"/>
<line x1="198.4" y1="586" x2="198.4" y2="650" stroke="#111" stroke-width="0.9" stroke-linecap="butt"/>
<line x1="198.4" y1="573" x2="198.4" y2="650" stroke="#222" stroke-width="0.9" stroke-linecap="butt" stroke-dasharray="40 3 3 3"/>
<line x1="198.4" y1="655" x2="198.4" y2="781" stroke="#222" stroke-width="0.8" stroke-linecap="butt" stroke-dasharray="7 2 2 2"/>
<ellipse cx="198.4" cy="652.5" rx="4.5" ry="2.5" stroke="#111" stroke-width="0.8" fill="#2a2a2a"/>
<ellipse cx="198.4" cy="652.5" rx="2.3" ry="0.8" stroke="#111" stroke-width="0.5" fill="#fff"/>
<path d="M195 660.6 L195 668.6 C196 670.2 200.8 670.2 201.8 668.6 L201.8 660.6" stroke="#111" stroke-width="1.0" fill="#fff" stroke-linejoin="round" stroke-linecap="round" />
<path d="M195 660.6 C196 658.6 200.8 658.6 201.8 660.6 L201.8 664.0 C200.8 665.6 196 665.6 195 664.0 Z" stroke="#111" stroke-width="1.0" fill="#222" stroke-linejoin="round" stroke-linecap="round" />
<ellipse cx="198.4" cy="660.8000000000001" rx="2.2" ry="1" stroke="#999" stroke-width="0.6" fill="#555"/>
<path d="M195 733 L195 741 C196 742.6 200.8 742.6 201.8 741 L201.8 733" stroke="#111" stroke-width="1.0" fill="#fff" stroke-linejoin="round" stroke-linecap="round" />
<path d="M195 733 C196 731 200.8 731 201.8 733 L201.8 736.4 C200.8 738 196 738 195 736.4 Z" stroke="#111" stroke-width="1.0" fill="#222" stroke-linejoin="round" stroke-linecap="round" />
<ellipse cx="198.4" cy="733.2" rx="2.2" ry="1" stroke="#999" stroke-width="0.6" fill="#555"/>
<path d="M192.2 676 L192.2 694 C193.6 699.4 203.4 699.4 204.9 694 L204.9 676" stroke="#111" stroke-width="1.3" fill="#fff" stroke-linejoin="round" stroke-linecap="round" />
<ellipse cx="198.5" cy="676" rx="6.35" ry="3.2" stroke="#111" stroke-width="1.4" fill="#222"/>
<ellipse cx="198.5" cy="676.4" rx="4.4" ry="1.9" stroke="#777" stroke-width="0.7" fill="#444"/>
<path d="M192.2 692 C193.6 695.6 203.4 695.6 204.9 692 L204.9 694.4 C203.4 699.6 193.6 699.6 192.2 694.4 Z" stroke="#111" stroke-width="0.9" fill="#222" stroke-linejoin="round" stroke-linecap="round" />
<path d="M196.8 706 C196.8 704.4 200.6 704.4 200.6 706 L200.6 713.2 C200.6 714.4 201 715 202 715.6 L220.8 726.6 L219 729.8 L199.4 718.6 C197.6 717.6 196.9 716.2 196.8 714.2 Z" stroke="#111" stroke-width="1.0" fill="#fff" stroke-linejoin="round" stroke-linecap="round" />
<line x1="200.4" y1="716.8" x2="219.6" y2="728" stroke="#444" stroke-width="1.4" stroke-linecap="butt" stroke-dasharray="0.8 1.1"/>
<line x1="198.7" y1="706.4" x2="198.7" y2="714" stroke="#777" stroke-width="0.8" stroke-linecap="butt"/>
<text x="203.4" y="714.8" font-size="11.5" text-anchor="start" fill="#111" transform="rotate(29 203.4 714.8)">12mm</text>
<path d="M193.4 752 C193.4 749.2 203.6 749.2 203.6 752 L203.6 757 C203.4 759.4 202.4 760.6 201.8 761.2 L201.8 773.4 C200.6 775.2 196.4 775.2 195.4 773.4 L195.4 761.2 C194.6 760.6 193.5 759.4 193.4 757 Z" stroke="#111" stroke-width="1.0" fill="#222" stroke-linejoin="round" stroke-linecap="round" />
<line x1="195.4" y1="763" x2="201.8" y2="763.6" stroke="#ddd" stroke-width="0.8" stroke-linecap="butt"/>
<line x1="195.4" y1="765.6" x2="201.8" y2="766.2" stroke="#ddd" stroke-width="0.8" stroke-linecap="butt"/>
<line x1="195.4" y1="768.2" x2="201.8" y2="768.8000000000001" stroke="#ddd" stroke-width="0.8" stroke-linecap="butt"/>
<line x1="195.4" y1="770.8" x2="201.8" y2="771.4" stroke="#ddd" stroke-width="0.8" stroke-linecap="butt"/>
<line x1="196" y1="753.4" x2="201" y2="753.4" stroke="#bbb" stroke-width="0.7" stroke-linecap="butt"/>
<line x1="198.5" y1="754" x2="198.5" y2="759" stroke="#999" stroke-width="0.6" stroke-linecap="butt"/>
<path d="M194.4 652.5 L152.3 652.5 L152.3 736.7 L160.4 736.7" stroke="#111" stroke-width="0.9" fill="none" stroke-linejoin="miter" stroke-linecap="butt" />
<line x1="152.3" y1="664.8" x2="161.4" y2="664.8" stroke="#111" stroke-width="0.9" stroke-linecap="butt"/>
<line x1="186.8" y1="664.8" x2="194.4" y2="664.8" stroke="#111" stroke-width="0.9" stroke-linecap="butt"/>
<line x1="152.3" y1="683.5" x2="191.4" y2="683.5" stroke="#111" stroke-width="0.9" stroke-linecap="butt"/>
<line x1="187.8" y1="736.7" x2="194.4" y2="736.7" stroke="#111" stroke-width="0.9" stroke-linecap="butt"/>
<line x1="145.6" y1="694.4" x2="152.3" y2="694.4" stroke="#111" stroke-width="0.9" stroke-linecap="butt"/>
<line x1="205.4" y1="555.5" x2="205.4" y2="591" stroke="#222" stroke-width="0.9" stroke-linecap="butt" stroke-dasharray="18 3"/>
<line x1="205.4" y1="591" x2="232" y2="610.8" stroke="#222" stroke-width="0.9" stroke-linecap="butt" stroke-dasharray="14 3 3 3"/>
<line x1="236" y1="613.6" x2="312" y2="672.5" stroke="#222" stroke-width="0.8" stroke-linecap="butt" stroke-dasharray="5 2"/>
<rect x="231.4" y="609.6" width="5.6" height="5.4" rx="1.2" fill="#111" transform="rotate(35 234.2 612.3)"/>
<ellipse cx="245" cy="620.3" rx="6.3" ry="6.3" stroke="#111" stroke-width="1.5" fill="#fff"/>
<path d="M241.4 625.4 C243.5 622.6 246 621 249.6 620.6" stroke="#111" stroke-width="0.8" fill="none" stroke-linejoin="round" stroke-linecap="round" />
<ellipse cx="247.8" cy="622.4" rx="2.2" ry="2.6" stroke="#111" stroke-width="1.4" fill="#444" transform="rotate(30 247.8 622.4)"/>
<ellipse cx="259.5" cy="631.1" rx="5.6" ry="6.6" stroke="#111" stroke-width="1.7" fill="#fff" transform="rotate(30 259.5 631.1)"/>
<path d="M271 631.6 C275.5 629.6 282 630.6 285.6 634.4 C289 638 289.4 645 286.8 650 C284.6 654.6 279.6 657.6 275.2 656.6 L268 654.8 C264 652.6 261.8 648 262.4 643 C262.8 638.6 266 633.8 271 631.6 Z" stroke="#111" stroke-width="1.4" fill="#fff" stroke-linejoin="round" stroke-linecap="round" />
<ellipse cx="279.3" cy="645.6" rx="7.4" ry="9.8" stroke="#111" stroke-width="1.0" fill="#fff" transform="rotate(32 279.3 645.6)"/>
<ellipse cx="278.6" cy="645.9" rx="2.8" ry="3.4" stroke="#111" stroke-width="1.3" fill="#fff" transform="rotate(32 278.6 645.9)"/>
<ellipse cx="278.6" cy="645.9" rx="1.1" ry="1.4" stroke="#111" stroke-width="0.8" fill="#333"/>
<path d="M270.4 650.6 C270 652.8 271 654.6 272.6 655.8" stroke="#111" stroke-width="0.8" fill="none" stroke-linejoin="round" stroke-linecap="round" />
<ellipse cx="294.6" cy="658.1" rx="7.4" ry="9.6" stroke="#111" stroke-width="1.3" fill="#333" transform="rotate(35 294.6 658.1)"/>
<line x1="285.1" y1="660.8" x2="291.5" y2="655.4" stroke="#ccc" stroke-width="0.5" stroke-linecap="butt" stroke-dasharray="0.9 1.1"/>
<line x1="287.2" y1="661.7" x2="293.6" y2="654.5" stroke="#ccc" stroke-width="0.5" stroke-linecap="butt" stroke-dasharray="0.9 1.1"/>
<line x1="289.3" y1="662.6" x2="295.7" y2="653.6" stroke="#ccc" stroke-width="0.5" stroke-linecap="butt" stroke-dasharray="0.9 1.1"/>
<line x1="291.4" y1="663.5" x2="297.8" y2="652.7" stroke="#ccc" stroke-width="0.5" stroke-linecap="butt" stroke-dasharray="0.9 1.1"/>
<line x1="293.5" y1="662.6" x2="299.9" y2="653.6" stroke="#ccc" stroke-width="0.5" stroke-linecap="butt" stroke-dasharray="0.9 1.1"/>
<line x1="295.6" y1="661.7" x2="302.0" y2="654.5" stroke="#ccc" stroke-width="0.5" stroke-linecap="butt" stroke-dasharray="0.9 1.1"/>
<line x1="297.7" y1="660.8" x2="304.1" y2="655.4" stroke="#ccc" stroke-width="0.5" stroke-linecap="butt" stroke-dasharray="0.9 1.1"/>
<line x1="304.8" y1="664.4" x2="310.4" y2="669.6" stroke="#222" stroke-width="2.6" stroke-linecap="butt"/>
<line x1="304.8" y1="664.4" x2="310.4" y2="669.6" stroke="#ccc" stroke-width="1.4" stroke-linecap="butt" stroke-dasharray="0.7 1"/>
<path d="M311.4 671.4 C312.2 669 316.4 668.4 318.6 670.4 C320.4 672.2 320 676 317.6 677.6 C315.4 678.8 312.6 677.4 311.6 675 Z" stroke="#111" stroke-width="1.1" fill="#fff" stroke-linejoin="round" stroke-linecap="round" />
<ellipse cx="316.4" cy="674.2" rx="2.3" ry="2.8" stroke="#111" stroke-width="0.9" fill="#ddd" transform="rotate(30 316.4 674.2)"/>
<path d="M311.6 675 L313.8 672.4" stroke="#111" stroke-width="0.7" fill="none" stroke-linejoin="round" stroke-linecap="round" />
<line x1="211.2" y1="622.4" x2="292.8" y2="684.1" stroke="#111" stroke-width="0.9" stroke-linecap="butt"/>
<line x1="211.2" y1="622.4" x2="232.4" y2="614.3" stroke="#111" stroke-width="0.9" stroke-linecap="butt"/>
<line x1="236.9" y1="641.9" x2="250.5" y2="636.5" stroke="#111" stroke-width="0.9" stroke-linecap="butt"/>
<line x1="273.9" y1="669.3" x2="284.7" y2="664.2" stroke="#111" stroke-width="0.9" stroke-linecap="butt"/>
<line x1="284.7" y1="677.4" x2="304.5" y2="669.3" stroke="#111" stroke-width="0.9" stroke-linecap="butt"/>
<line x1="292.8" y1="684.1" x2="312.6" y2="677.4" stroke="#111" stroke-width="0.9" stroke-linecap="butt"/>
<line x1="253.2" y1="666" x2="263.1" y2="663" stroke="#111" stroke-width="0.9" stroke-linecap="butt"/>
<line x1="247" y1="299.2" x2="205.1" y2="321.8" stroke="#222" stroke-width="0.9" stroke-linecap="butt" stroke-dasharray="17 4"/>
<line x1="247" y1="321.8" x2="203.5" y2="345.2" stroke="#222" stroke-width="0.9" stroke-linecap="butt" stroke-dasharray="17 4"/>
<ellipse cx="251.1" cy="302.6" rx="2.3" ry="2.6" stroke="#111" stroke-width="1.4" fill="#444"/>
<line x1="255.29999999999998" y1="305.1" x2="258.9" y2="307.1" stroke="#333" stroke-width="0.9" stroke-linecap="butt"/>
<line x1="258.9" y1="307.1" x2="279.9" y2="318.6" stroke="#333" stroke-width="2.8" stroke-linecap="butt"/>
<line x1="258.9" y1="307.1" x2="279.9" y2="318.6" stroke="#fff" stroke-width="1.4" stroke-linecap="butt" stroke-dasharray="0.9 1.4"/>
<ellipse cx="281.7" cy="319.6" rx="2.3" ry="2.8" stroke="#111" stroke-width="1.2" fill="#fff"/>
<ellipse cx="281.7" cy="319.6" rx="0.9" ry="1.1" stroke="#111" stroke-width="0.6" fill="none"/>
<ellipse cx="251.1" cy="325.2" rx="2.3" ry="2.6" stroke="#111" stroke-width="1.4" fill="#444"/>
<line x1="255.29999999999998" y1="327.7" x2="258.9" y2="329.7" stroke="#333" stroke-width="0.9" stroke-linecap="butt"/>
<line x1="258.9" y1="329.7" x2="279.9" y2="341.2" stroke="#333" stroke-width="2.8" stroke-linecap="butt"/>
<line x1="258.9" y1="329.7" x2="279.9" y2="341.2" stroke="#fff" stroke-width="1.4" stroke-linecap="butt" stroke-dasharray="0.9 1.4"/>
<ellipse cx="281.7" cy="342.2" rx="2.3" ry="2.8" stroke="#111" stroke-width="1.2" fill="#fff"/>
<ellipse cx="281.7" cy="342.2" rx="0.9" ry="1.1" stroke="#111" stroke-width="0.6" fill="none"/>
<line x1="160" y1="290.2" x2="214.3" y2="319.3" stroke="#222" stroke-width="0.8" stroke-linecap="butt" stroke-dasharray="10 4"/>
<line x1="162" y1="309.4" x2="198.4" y2="330.2" stroke="#222" stroke-width="0.8" stroke-linecap="butt" stroke-dasharray="10 4"/>
<ellipse cx="217.2" cy="321" rx="2.4" ry="2.7" stroke="#111" stroke-width="1.2" fill="#3a3a3a"/>
<ellipse cx="217.2" cy="321" rx="0.8" ry="0.9" stroke="#aaa" stroke-width="0.5" fill="#888"/>
<ellipse cx="222.7" cy="324.3" rx="2.4" ry="2.7" stroke="#111" stroke-width="1.2" fill="#3a3a3a"/>
<ellipse cx="222.7" cy="324.3" rx="0.8" ry="0.9" stroke="#aaa" stroke-width="0.5" fill="#888"/>
<ellipse cx="200.1" cy="331" rx="2.4" ry="2.7" stroke="#111" stroke-width="1.2" fill="#3a3a3a"/>
<ellipse cx="200.1" cy="331" rx="0.8" ry="0.9" stroke="#aaa" stroke-width="0.5" fill="#888"/>
<ellipse cx="205.6" cy="333.9" rx="2.4" ry="2.7" stroke="#111" stroke-width="1.2" fill="#3a3a3a"/>
<ellipse cx="205.6" cy="333.9" rx="0.8" ry="0.9" stroke="#aaa" stroke-width="0.5" fill="#888"/>
<line x1="197.6" y1="366.2" x2="223.5" y2="352.3" stroke="#111" stroke-width="0.9" stroke-linecap="butt"/>
<line x1="201.8" y1="399.6" x2="234.4" y2="380.4" stroke="#111" stroke-width="0.9" stroke-linecap="butt"/>
<ellipse cx="251.6" cy="395.1" rx="3.1" ry="3.4" stroke="#111" stroke-width="1.0" fill="#fff"/>
<ellipse cx="251.7" cy="395.1" rx="1.2" ry="1.4" stroke="#111" stroke-width="0.8" fill="none"/>
<ellipse cx="257.8" cy="398.5" rx="2.3" ry="2.5" stroke="#111" stroke-width="1.0" fill="#2a2a2a"/>
<line x1="247.8" y1="392.4" x2="202.6" y2="415.9" stroke="#222" stroke-width="0.9" stroke-linecap="butt" stroke-dasharray="20 4 4 4"/>
<path d="M213.4 439.8 L206 435.4" stroke="#111" stroke-width="0.9" fill="none" stroke-linejoin="round" stroke-linecap="round" />
<line x1="204.4" y1="450.8" x2="237" y2="469.3" stroke="#222" stroke-width="0.9" stroke-linecap="butt" stroke-dasharray="7 3"/>
<line x1="203" y1="480.4" x2="222" y2="491.2" stroke="#222" stroke-width="0.9" stroke-linecap="butt" stroke-dasharray="12 3"/>
<line x1="191.8" y1="541" x2="205.4" y2="551.8" stroke="#222" stroke-width="0.9" stroke-linecap="butt" stroke-dasharray="6 2"/>
<line x1="326.5" y1="347.9" x2="326.5" y2="359.3" stroke="#111" stroke-width="0.9" stroke-linecap="butt"/>
<path d="M392.6 356.9 L398 353.9 L367 336.6 L288.1 382.2 L288.1 431.7 L306.7 442.5 L322.3 434.4" stroke="#111" stroke-width="0.9" fill="none" stroke-linejoin="miter" stroke-linecap="butt" />
<path d="M296.6 405.6 L296.6 385.8 L335 363.6 L405.6 403.8 L352 435.3" stroke="#111" stroke-width="0.9" fill="none" stroke-linejoin="miter" stroke-linecap="butt" />
<line x1="359.3" y1="377.3" x2="364.7" y2="374" stroke="#111" stroke-width="0.9" stroke-linecap="butt"/>
<path d="M304.3 410.1 L304.3 391.2 L341.3 369.5 L369.2 384.5 L362.9 388.1" stroke="#111" stroke-width="0.9" fill="none" stroke-linejoin="miter" stroke-linecap="butt" />
<line x1="315.1" y1="414.6" x2="335" y2="403.8" stroke="#111" stroke-width="0.9" stroke-linecap="butt"/>
<path d="M279.8 402.3 L213.4 439.8" stroke="#111" stroke-width="0.9" fill="none" stroke-linejoin="round" stroke-linecap="butt" stroke-dasharray="34 2.5 4.5 3.5 40" />
<path d="M279.8 402.3 L290.5 408.6" stroke="#111" stroke-width="0.9" fill="none" stroke-linejoin="round" stroke-linecap="round" />
<ellipse cx="295.7" cy="411.9" rx="2.4" ry="3.6" stroke="#111" stroke-width="1.4" fill="#fff" transform="rotate(28 295.7 411.9)"/>
<ellipse cx="303.1" cy="415.9" rx="1.7" ry="2.7" stroke="#111" stroke-width="1.2" fill="#fff" transform="rotate(28 303.1 415.9)"/>
<ellipse cx="313" cy="421.8" rx="5.7" ry="6" stroke="#111" stroke-width="1.0" fill="#222"/>
<line x1="308.0" y1="420.0" x2="316.8" y2="422.6" stroke="#999" stroke-width="0.5" stroke-linecap="butt"/>
<line x1="309.1" y1="417.8" x2="315.7" y2="424.8" stroke="#999" stroke-width="0.5" stroke-linecap="butt"/>
<line x1="311.2" y1="416.5" x2="313.6" y2="426.1" stroke="#999" stroke-width="0.5" stroke-linecap="butt"/>
<line x1="313.6" y1="416.5" x2="311.2" y2="426.1" stroke="#999" stroke-width="0.5" stroke-linecap="butt"/>
<line x1="315.7" y1="417.8" x2="309.1" y2="424.8" stroke="#999" stroke-width="0.5" stroke-linecap="butt"/>
<line x1="316.8" y1="420.0" x2="308.0" y2="422.6" stroke="#999" stroke-width="0.5" stroke-linecap="butt"/>
<ellipse cx="313.2" cy="421.7" rx="2" ry="2.3" stroke="#bbb" stroke-width="0.6" fill="#555"/>
<path d="M319 424 L322 422 L329 428 L330 434 L326 436.4 L320 431 Z" stroke="#111" stroke-width="0.8" fill="#222" stroke-linejoin="round" stroke-linecap="round" />
<line x1="321.0" y1="423.6" x2="320.6" y2="431.6" stroke="#bbb" stroke-width="0.5" stroke-linecap="butt"/>
<line x1="322.9" y1="425.20000000000005" x2="322.5" y2="433.1" stroke="#bbb" stroke-width="0.5" stroke-linecap="butt"/>
<line x1="324.8" y1="426.8" x2="324.40000000000003" y2="434.6" stroke="#bbb" stroke-width="0.5" stroke-linecap="butt"/>
<line x1="326.7" y1="428.40000000000003" x2="326.3" y2="436.1" stroke="#bbb" stroke-width="0.5" stroke-linecap="butt"/>
<ellipse cx="334.1" cy="433.5" rx="5.6" ry="6" stroke="#111" stroke-width="1.1" fill="#fff"/>
<ellipse cx="335.3" cy="434" rx="3.2" ry="3.6" stroke="#111" stroke-width="0.9" fill="#fff"/>
<line x1="333" y1="431.4" x2="337.6" y2="436.4" stroke="#111" stroke-width="0.7" stroke-linecap="butt"/>
<line x1="337.4" y1="431.6" x2="333.4" y2="436.4" stroke="#111" stroke-width="0.7" stroke-linecap="butt"/>
<ellipse cx="347" cy="441.3" rx="3" ry="5.2" stroke="#111" stroke-width="1.7" fill="#fff" transform="rotate(30 347 441.3)"/>
<line x1="350.6" y1="443.2" x2="355.6" y2="446" stroke="#111" stroke-width="0.8" stroke-linecap="butt"/>
<path d="M304.4 406.4 C309 400.5 322 400.5 326.6 415.8" stroke="#111" stroke-width="0.8" fill="none" stroke-linejoin="round" stroke-linecap="round" />
<path d="M305.6 410 C311 404.6 320.5 405.8 323.4 416" stroke="#111" stroke-width="0.8" fill="none" stroke-linejoin="round" stroke-linecap="round" />
<polygon points="327.4,419.8 325.2,414.8 328.4,414.6" fill="#111"/>
<polygon points="323.8,419.8 321.8,414.8 325,414.6" fill="#111"/>
<path d="M328 437.5 C326.6 444 333 450.4 339.8 448.6" stroke="#111" stroke-width="0.8" fill="none" stroke-linejoin="round" stroke-linecap="round" />
<path d="M370.46 418.21 L358.77 425.08 L358.58 427.51 L353.79 429.63 L354.37 426.27 L350.6 426.17 L350.81 422.57 L354.7 420.51 L356.65 421.46 L368.34 414.59 A2.1 2.1 0 0 1 370.46 418.21 Z" stroke="#111" stroke-width="1.1" fill="#fff" stroke-linejoin="round" stroke-linecap="round" />
<line x1="348" y1="428.3" x2="344.15" y2="430.57" stroke="#111" stroke-width="0.9" stroke-linecap="butt"/>
<polygon points="341.40,432.20 343.49,429.45 344.82,431.69" fill="#111"/>
<text x="353.4" y="419" font-size="11" text-anchor="start" fill="#111" transform="rotate(-28.7 353.4 419)">17mm</text>
<line x1="222" y1="461.6" x2="238" y2="470.4" stroke="#222" stroke-width="0.9" stroke-linecap="butt" stroke-dasharray="8 3"/>
<line x1="249.6" y1="476.6" x2="253.6" y2="478.8" stroke="#111" stroke-width="0.9" stroke-linecap="butt"/>
<line x1="276.4" y1="492.6" x2="285.4" y2="498" stroke="#111" stroke-width="0.9" stroke-linecap="butt"/>
<line x1="250.2" y1="469.7" x2="260.6" y2="464.3" stroke="#111" stroke-width="0.9" stroke-linecap="butt"/>
<ellipse cx="243.8" cy="473.4" rx="6" ry="6.3" stroke="#111" stroke-width="1.0" fill="#222"/>
<ellipse cx="245.4" cy="473" rx="3.2" ry="4.2" stroke="#111" stroke-width="0.9" fill="#fff" transform="rotate(25 245.4 473)"/>
<path d="M240 469.6 C241.6 468.2 244 468 246 468.8" stroke="#aaa" stroke-width="0.6" fill="none" stroke-linejoin="round" stroke-linecap="round" />
<path d="M255 478 L257.6 477 L275 487 L276.2 490 L274.6 493 L271.8 493.8 L254.4 483.8 L253.6 480.8 Z" stroke="#111" stroke-width="0.9" fill="#fff" stroke-linejoin="round" stroke-linecap="round" />
<path d="M257.6 477 L257 480.4 L253.6 480.8 M257 480.4 L273.6 490 L276.2 490 M273.6 490 L274.6 493" stroke="#111" stroke-width="0.7" fill="none" stroke-linejoin="round" stroke-linecap="round" />
<path d="M265.6 481.8 L264.2 488.6 M267.6 483 L266.2 489.8" stroke="#111" stroke-width="0.7" fill="none" stroke-linejoin="round" stroke-linecap="round" />
<text x="246.6" y="493.6" font-size="11.5" text-anchor="start" fill="#111" transform="rotate(26.6 246.6 493.6)">10mm</text>
<path d="M387.3 442.4 L474 492.5 L470.2 495.6" stroke="#111" stroke-width="0.9" fill="none" stroke-linejoin="miter" stroke-linecap="butt" />
<line x1="295.8" y1="495" x2="312.8" y2="485.4" stroke="#111" stroke-width="0.9" stroke-linecap="butt"/>
<line x1="332.5" y1="473.9" x2="387.3" y2="442.4" stroke="#111" stroke-width="0.9" stroke-linecap="butt"/>
<line x1="302.1" y1="500.4" x2="347" y2="475.6" stroke="#111" stroke-width="0.9" stroke-linecap="butt"/>
<line x1="379.5" y1="457.4" x2="395.5" y2="448.5" stroke="#111" stroke-width="0.9" stroke-linecap="butt"/>
<line x1="329.9" y1="512.9" x2="418.7" y2="462.2" stroke="#111" stroke-width="0.9" stroke-linecap="butt"/>
<line x1="350.5" y1="527.3" x2="449" y2="469" stroke="#111" stroke-width="0.9" stroke-linecap="butt"/>
<path d="M365.9 533.5 L415.4 505.4 L462 533 L458.4 536" stroke="#111" stroke-width="0.9" fill="none" stroke-linejoin="miter" stroke-linecap="butt" />
<line x1="377.5" y1="542.7" x2="438.6" y2="508.2" stroke="#111" stroke-width="0.9" stroke-linecap="butt"/>
<line x1="423.8" y1="531.7" x2="440.6" y2="522.7" stroke="#111" stroke-width="0.9" stroke-linecap="butt"/>
<line x1="389.9" y1="551" x2="398.1" y2="545.8" stroke="#111" stroke-width="0.9" stroke-linecap="butt"/>
<line x1="411" y1="562.6" x2="462" y2="533" stroke="#111" stroke-width="0.9" stroke-linecap="butt"/>
<ellipse cx="289.5" cy="501.3" rx="3.6" ry="5.2" stroke="#111" stroke-width="1.4" fill="#fff" transform="rotate(25 289.5 501.3)"/>
<ellipse cx="296.9" cy="504.6" rx="3.0" ry="4.6" stroke="#111" stroke-width="1.4" fill="#fff" transform="rotate(25 296.9 504.6)"/>
<line x1="300.6" y1="506.2" x2="305.6" y2="509" stroke="#222" stroke-width="2.2" stroke-linecap="butt"/>
<line x1="300.6" y1="506.2" x2="305.6" y2="509" stroke="#ddd" stroke-width="1.2" stroke-linecap="butt" stroke-dasharray="0.7 0.9"/>
<path d="M308.0 505.6 L311.5 507.7 L308.2 513.2 L304.8 511.2 Z" stroke="#111" stroke-width="0.8" fill="#222" stroke-linejoin="round" stroke-linecap="round" />
<path d="M312.6 505.8 L316.9 508.3 L311.4 517.6 L307.1 515.1 Z" stroke="#111" stroke-width="0.8" fill="#222" stroke-linejoin="round" stroke-linecap="round" />
<path d="M317.3 507.7 L320.7 509.7 L314.4 520.4 L311.0 518.3 Z" stroke="#111" stroke-width="0.8" fill="#fff" stroke-linejoin="round" stroke-linecap="round" />
<path d="M321.3 508.8 L328.1 512.9 L320.8 525.3 L313.9 521.2 Z" stroke="#111" stroke-width="0.8" fill="#222" stroke-linejoin="round" stroke-linecap="round" />
<path d="M327.5 514.0 L331.0 516.0 L324.8 526.3 L321.4 524.3 Z" stroke="#111" stroke-width="0.8" fill="#fff" stroke-linejoin="round" stroke-linecap="round" />
<path d="M330.4 516.9 L334.8 519.4 L329.6 528.0 L325.3 525.4 Z" stroke="#111" stroke-width="0.8" fill="#222" stroke-linejoin="round" stroke-linecap="round" />
<path d="M333.5 521.5 L336.1 523.0 L333.5 527.5 L330.9 525.9 Z" stroke="#111" stroke-width="0.8" fill="#222" stroke-linejoin="round" stroke-linecap="round" />
<line x1="313.5" y1="507.2" x2="308.8" y2="515.2" stroke="#bbb" stroke-width="0.5" stroke-linecap="butt"/>
<line x1="314.8" y1="508.0" x2="310.1" y2="515.9" stroke="#bbb" stroke-width="0.5" stroke-linecap="butt"/>
<line x1="321.2" y1="511.8" x2="316.5" y2="519.8" stroke="#bbb" stroke-width="0.5" stroke-linecap="butt"/>
<line x1="322.5" y1="512.6" x2="317.8" y2="520.5" stroke="#bbb" stroke-width="0.5" stroke-linecap="butt"/>
<line x1="323.8" y1="513.4" x2="319.1" y2="521.3" stroke="#bbb" stroke-width="0.5" stroke-linecap="butt"/>
<line x1="325.1" y1="514.1" x2="320.4" y2="522.0" stroke="#bbb" stroke-width="0.5" stroke-linecap="butt"/>
<line x1="331.5" y1="518.0" x2="326.8" y2="525.9" stroke="#bbb" stroke-width="0.5" stroke-linecap="butt"/>
<line x1="332.8" y1="518.7" x2="328.1" y2="526.6" stroke="#bbb" stroke-width="0.5" stroke-linecap="butt"/>
<path d="M291 508 C297 520 312 526 322.6 522.8" stroke="#111" stroke-width="0.8" fill="none" stroke-linejoin="round" stroke-linecap="round" />
<path d="M298.6 510.4 C302 518 311 522.6 318.6 520.8" stroke="#111" stroke-width="0.8" fill="none" stroke-linejoin="round" stroke-linecap="round" />
<polygon points="325.4,522.2 320.4,521 321.4,524.4" fill="#111"/>
<path d="M284.23 542.17 L299.73 532.93 L299.91 530.49 L304.69 528.35 L304.02 531.53 L307.8 531.61 L307.51 535.04 L303.63 537.12 L301.68 536.19 L286.17 545.43 A1.9 1.9 0 0 1 284.23 542.17 Z" stroke="#111" stroke-width="1.1" fill="#fff" stroke-linejoin="round" stroke-linecap="round" />
<line x1="308.2" y1="530.2" x2="312.07" y2="528.49" stroke="#111" stroke-width="0.9" stroke-linecap="butt"/>
<polygon points="315.00,527.20 312.60,529.68 311.55,527.30" fill="#111"/>
<text x="270.2" y="547.6" font-size="11.5" text-anchor="start" fill="#111" transform="rotate(-28.4 270.2 547.6)">22mm</text>
<path d="M338.4 526.6 L341 525.4 L350.6 531 L351.6 534.6 L349.6 537.4 L346.6 538 L337.4 532.6 L336.8 529.4 Z" stroke="#111" stroke-width="0.9" fill="#fff" stroke-linejoin="round" stroke-linecap="round" />
<path d="M344.6 527.6 L350.6 531 L351.6 534.6 L349.6 537.4 L346.6 538 L342.6 535.6 Z" stroke="#111" stroke-width="0.8" fill="#222" stroke-linejoin="round" stroke-linecap="round" />
<line x1="340.4" y1="526" x2="339.6" y2="532" stroke="#111" stroke-width="0.9" stroke-linecap="butt"/>
<line x1="342.6" y1="527" x2="341.8" y2="533.4" stroke="#111" stroke-width="0.9" stroke-linecap="butt"/>
<line x1="346.4" y1="530" x2="345.8" y2="536" stroke="#bbb" stroke-width="0.6" stroke-linecap="butt"/>
<line x1="348.4" y1="531.2" x2="347.8" y2="537" stroke="#bbb" stroke-width="0.6" stroke-linecap="butt"/>
<path d="M354.6 533.4 C356.4 532 359 532 361 533 L369.6 538 L366.8 549.4 L357.4 544.6 C354.4 543 353 540 353.2 537.4 C353.4 535.6 353.8 534.4 354.6 533.4 Z" stroke="#111" stroke-width="1.2" fill="#fff" stroke-linejoin="round" stroke-linecap="round" />
<ellipse cx="367.4" cy="543.6" rx="3.4" ry="5.6" stroke="#111" stroke-width="1.0" fill="#222" transform="rotate(25 367.4 543.6)"/>
<path d="M357.6 533.2 C355.4 536 355.4 541 358.4 544.6" stroke="#111" stroke-width="1.6" fill="none" stroke-linejoin="round" stroke-linecap="round" />
<ellipse cx="374.9" cy="548.9" rx="3.3" ry="5.2" stroke="#111" stroke-width="1.5" fill="#fff" transform="rotate(25 374.9 548.9)"/>
<path d="M384.4 551.4 L388.6 552.4 M383.6 552 C381.6 555 382.6 560 386.4 562.6 M386 556.6 L391.6 557.8 C393.2 559.6 392.6 562 391 563.2" stroke="#111" stroke-width="1.2" fill="none" stroke-linejoin="round" stroke-linecap="round" />
<path d="M397 557.4 C399 555.4 402.4 555 405 556 L411.4 559.6 L411 568 C409.4 572 405 573.6 401.4 572.6 L395.6 569.4 C393.4 567 393 561.6 397 557.4 Z" stroke="#111" stroke-width="1.1" fill="#fff" stroke-linejoin="round" stroke-linecap="round" />
<ellipse cx="404.4" cy="564.6" rx="5.4" ry="7.6" stroke="#111" stroke-width="1.6" fill="#fff" transform="rotate(25 404.4 564.6)"/>
<ellipse cx="405" cy="564.9" rx="3.2" ry="5" stroke="#111" stroke-width="1.0" fill="#333" transform="rotate(25 405 564.9)"/>
<path d="M397 557.4 C394.6 561 395 566 397.6 569.6" stroke="#111" stroke-width="1.4" fill="none" stroke-linejoin="round" stroke-linecap="round" />
<line x1="411.4" y1="568.8" x2="431.6" y2="581.5" stroke="#222" stroke-width="0.9" stroke-linecap="butt" stroke-dasharray="9 3 2 3"/>
<line x1="460" y1="598.5" x2="505.6" y2="623.6" stroke="#222" stroke-width="0.9" stroke-linecap="butt" stroke-dasharray="0 3.5 6 3.5 60"/>
<line x1="222" y1="493.2" x2="283" y2="526.4" stroke="#222" stroke-width="0.9" stroke-linecap="butt" stroke-dasharray="30 4 4 4"/>
<line x1="306.6" y1="539.8" x2="343" y2="560" stroke="#222" stroke-width="0.9" stroke-linecap="butt" stroke-dasharray="12 3 3 3"/>
<line x1="370" y1="578" x2="375" y2="580.6" stroke="#111" stroke-width="0.9" stroke-linecap="butt"/>
<line x1="405.1" y1="598.2" x2="412" y2="602" stroke="#111" stroke-width="0.9" stroke-linecap="butt"/>
<line x1="440.5" y1="618.7" x2="505.8" y2="655" stroke="#222" stroke-width="0.9" stroke-linecap="butt" stroke-dasharray="30 4 5.5 4 40"/>
<path d="M346.7 558.6 L349.3 560.2 L344.6 568.1 L342.1 566.6 Z" stroke="#111" stroke-width="0.8" fill="#222" stroke-linejoin="round" stroke-linecap="round" />
<path d="M350.3 558.5 L353.8 560.5 L347.1 571.8 L343.6 569.8 Z" stroke="#111" stroke-width="0.8" fill="#222" stroke-linejoin="round" stroke-linecap="round" />
<path d="M353.3 561.4 L355.9 562.9 L350.1 572.5 L347.6 571.0 Z" stroke="#111" stroke-width="0.8" fill="#fff" stroke-linejoin="round" stroke-linecap="round" />
<path d="M356.7 561.5 L362.7 565.1 L355.3 577.5 L349.3 573.9 Z" stroke="#111" stroke-width="0.8" fill="#222" stroke-linejoin="round" stroke-linecap="round" />
<path d="M361.9 566.5 L365.3 568.5 L359.6 578.1 L356.2 576.1 Z" stroke="#111" stroke-width="0.8" fill="#fff" stroke-linejoin="round" stroke-linecap="round" />
<path d="M364.6 569.7 L368.9 572.2 L364.6 579.5 L360.3 576.9 Z" stroke="#111" stroke-width="0.8" fill="#222" stroke-linejoin="round" stroke-linecap="round" />
<path d="M367.7 574.3 L370.3 575.8 L368.4 578.9 L365.8 577.4 Z" stroke="#111" stroke-width="0.8" fill="#222" stroke-linejoin="round" stroke-linecap="round" />
<line x1="347.8" y1="559.8" x2="343.5" y2="567.0" stroke="#bbb" stroke-width="0.5" stroke-linecap="butt"/>
<line x1="350.0" y1="561.0" x2="345.7" y2="568.3" stroke="#bbb" stroke-width="0.5" stroke-linecap="butt"/>
<line x1="351.3" y1="561.8" x2="347.0" y2="569.0" stroke="#bbb" stroke-width="0.5" stroke-linecap="butt"/>
<line x1="356.4" y1="564.9" x2="352.1" y2="572.1" stroke="#bbb" stroke-width="0.5" stroke-linecap="butt"/>
<line x1="357.7" y1="565.6" x2="353.4" y2="572.8" stroke="#bbb" stroke-width="0.5" stroke-linecap="butt"/>
<line x1="359.0" y1="566.4" x2="354.7" y2="573.6" stroke="#bbb" stroke-width="0.5" stroke-linecap="butt"/>
<line x1="360.3" y1="567.1" x2="356.0" y2="574.4" stroke="#bbb" stroke-width="0.5" stroke-linecap="butt"/>
<line x1="365.9" y1="570.5" x2="361.6" y2="577.7" stroke="#bbb" stroke-width="0.5" stroke-linecap="butt"/>
<line x1="367.2" y1="571.2" x2="362.9" y2="578.5" stroke="#bbb" stroke-width="0.5" stroke-linecap="butt"/>
<line x1="312.5" y1="591.3" x2="343.4" y2="573.8" stroke="#111" stroke-width="0.9" stroke-linecap="butt"/>
<path d="M327.13 594.22 L341.55 586.25 L341.81 583.82 L346.65 581.83 L345.84 584.9 L349.61 585.1 L349.16 588.43 L345.22 590.39 L343.3 589.4 L328.87 597.38 A1.8 1.8 0 0 1 327.13 594.22 Z" stroke="#111" stroke-width="1.1" fill="#fff" stroke-linejoin="round" stroke-linecap="round" />
<line x1="351" y1="582.9" x2="355.69" y2="580.74" stroke="#111" stroke-width="0.9" stroke-linecap="butt"/>
<polygon points="358.60,579.40 356.24,581.92 355.15,579.56" fill="#111"/>
<text x="321.4" y="613" font-size="11" text-anchor="start" fill="#111" transform="rotate(-29.8 321.4 613)">19mm</text>
<ellipse cx="383.4" cy="586.0" rx="8.8" ry="12" stroke="#111" stroke-width="1.2" fill="#fff" transform="rotate(22 383.4 586.0)"/>
<polygon points="390.28,603.82 378.08,596.72 388.72,575.28 400.92,582.38" fill="#fff"/>
<line x1="390.28" y1="603.82" x2="378.08" y2="596.72" stroke="#111" stroke-width="1.2" stroke-linecap="butt"/>
<line x1="400.92" y1="582.38" x2="388.72" y2="575.28" stroke="#111" stroke-width="1.2" stroke-linecap="butt"/>
<ellipse cx="395.6" cy="593.1" rx="8.8" ry="12" stroke="#111" stroke-width="1.2" fill="#fff" transform="rotate(22 395.6 593.1)"/>
<ellipse cx="395.90000000000003" cy="593.3000000000001" rx="7.4" ry="10.2" stroke="#111" stroke-width="0.7" fill="#fff" transform="rotate(22 395.90000000000003 593.3000000000001)"/>
<ellipse cx="396.40000000000003" cy="593.6" rx="6.200000000000001" ry="8.6" stroke="#111" stroke-width="1.0" fill="#fff" transform="rotate(22 396.40000000000003 593.6)"/>
<line x1="392.4" y1="590.8" x2="403" y2="596.8" stroke="#111" stroke-width="0.8" stroke-linecap="butt"/>
<line x1="445.6" y1="590" x2="458.6" y2="597.6" stroke="#111" stroke-width="0.8" stroke-linecap="butt"/>
<ellipse cx="440.6" cy="585.2" rx="8.3" ry="11.8" stroke="#111" stroke-width="1.2" fill="#fff" transform="rotate(20 440.6 585.2)"/>
<polygon points="455.89,580.3 445.49,574.5 435.71,595.9 446.11,601.7" fill="#fff"/>
<line x1="455.89" y1="580.3" x2="445.49" y2="574.5" stroke="#111" stroke-width="1.2" stroke-linecap="butt"/>
<line x1="446.11" y1="601.7" x2="435.71" y2="595.9" stroke="#111" stroke-width="1.2" stroke-linecap="butt"/>
<ellipse cx="451" cy="591" rx="8.3" ry="11.8" stroke="#111" stroke-width="1.2" fill="#fff" transform="rotate(20 451 591)"/>
<ellipse cx="451.3" cy="591.2" rx="6.9" ry="10.0" stroke="#111" stroke-width="0.7" fill="#fff" transform="rotate(20 451.3 591.2)"/>
<ellipse cx="451.8" cy="591.5" rx="5.700000000000001" ry="8.4" stroke="#111" stroke-width="1.0" fill="#fff" transform="rotate(20 451.8 591.5)"/>
<line x1="446" y1="588.4" x2="456.4" y2="594.2" stroke="#111" stroke-width="0.8" stroke-linecap="butt"/>
<line x1="367.8" y1="605.2" x2="379.4" y2="599.5" stroke="#111" stroke-width="0.9" stroke-linecap="butt"/>
<line x1="433.5" y1="607.2" x2="441.9" y2="603.4" stroke="#111" stroke-width="0.9" stroke-linecap="butt"/>
<path d="M505.4 485.6 L528.6 471.5 L540.6 471.5 C548 482 554 494 559 504.8 C563.5 514 567.5 524 570.2 532 C574 543 577.5 554 579.8 564 C582.5 575 585 586 586.2 596 C588 608 589.4 624 589.4 640 C589.4 660 587 680 583 697 C578 722 571 745 562 766 C557 778 551 790 545 800.5 L506 829 L505.4 485.6 Z" stroke="#111" stroke-width="1.5" fill="#fff" stroke-linejoin="round" stroke-linecap="round" />
<path d="M507.2 489.4 L540.6 473.6" stroke="#111" stroke-width="0.8" fill="none" stroke-linejoin="round" stroke-linecap="round" />
<path d="M507.4 492 L529.4 481.2 L541.6 475.4" stroke="#111" stroke-width="0.8" fill="none" stroke-linejoin="round" stroke-linecap="round" />
<line x1="507.6" y1="489.6" x2="507.8" y2="827.6" stroke="#111" stroke-width="0.9" stroke-linecap="butt"/>
<ellipse cx="533.6" cy="527.2" rx="8.2" ry="29.6" stroke="#111" stroke-width="0.9" fill="#fff" transform="rotate(-6 533.6 527.2)"/>
<ellipse cx="534.6" cy="525.2" rx="6.4" ry="18.8" stroke="#111" stroke-width="1.0" fill="#fff" transform="rotate(-6 534.6 525.2)"/>
<path d="M537.4 507.6 C541 514 542.4 526 541 538" stroke="#111" stroke-width="2.0" fill="none" stroke-linejoin="round" stroke-linecap="round" />
<polygon points="535.8,559.4 542.6,556.6 543.2,559.8 536.6,562.6" fill="#111"/>
<ellipse cx="542.4" cy="580.8" rx="13.4" ry="17.4" stroke="#111" stroke-width="1.3" fill="#fff" transform="rotate(14 542.4 580.8)"/>
<ellipse cx="542.4" cy="580.8" rx="11.8" ry="15.599999999999998" stroke="#111" stroke-width="0.9" fill="#fff" transform="rotate(14 542.4 580.8)"/>
<ellipse cx="546.2" cy="613.8" rx="13.4" ry="17.4" stroke="#111" stroke-width="1.3" fill="#fff" transform="rotate(14 546.2 613.8)"/>
<ellipse cx="546.2" cy="613.8" rx="11.8" ry="15.599999999999998" stroke="#111" stroke-width="0.9" fill="#fff" transform="rotate(14 546.2 613.8)"/>
<ellipse cx="548" cy="648.8" rx="8.8" ry="11.8" stroke="#111" stroke-width="1.3" fill="#fff" transform="rotate(14 548 648.8)"/>
<ellipse cx="548" cy="680" rx="8.8" ry="11.8" stroke="#111" stroke-width="1.3" fill="#fff" transform="rotate(14 548 680)"/>
<ellipse cx="543" cy="742.5" rx="13" ry="16.4" stroke="#111" stroke-width="1.3" fill="#fff" transform="rotate(18 543 742.5)"/>
<ellipse cx="543" cy="742.5" rx="11.4" ry="14.599999999999998" stroke="#111" stroke-width="0.9" fill="#fff" transform="rotate(18 543 742.5)"/>
<text x="542.6" y="635.6" font-size="4.5" text-anchor="start" fill="#111">(w)</text>
<rect x="553.4" y="660.6" width="2.4" height="2.4" fill="#222" transform="rotate(20 554 661)"/>
<rect x="535.6" y="669.6" width="1.8" height="1.8" fill="#222"/>
<rect x="544.6" y="664.2" width="1.2" height="1.2" fill="#444"/>
<path d="M535.6 694.6 C536.6 693.4 537.6 694.4 536.6 695.6 C535.6 696.6 536.6 697.8 537.6 696.8" stroke="#111" stroke-width="0.9" fill="none" stroke-linejoin="round" stroke-linecap="round" />
<line x1="531" y1="577.6" x2="600" y2="603.2" stroke="#222" stroke-width="0.9" stroke-linecap="butt" stroke-dasharray="48 3 4 3"/>
<line x1="632" y1="615.2" x2="663" y2="628.6" stroke="#222" stroke-width="0.9" stroke-linecap="butt" stroke-dasharray="14 3 3 3"/>
<line x1="534" y1="610.4" x2="604" y2="641.6" stroke="#222" stroke-width="0.9" stroke-linecap="butt" stroke-dasharray="50 3 4 3"/>
<line x1="636" y1="655" x2="667" y2="668.8" stroke="#222" stroke-width="0.9" stroke-linecap="butt" stroke-dasharray="14 3 3 3"/>
<line x1="541" y1="645" x2="603" y2="682" stroke="#222" stroke-width="0.9" stroke-linecap="butt" stroke-dasharray="20 3 4 3"/>
<line x1="626" y1="694" x2="647.5" y2="706" stroke="#111" stroke-width="0.9" stroke-linecap="butt"/>
<line x1="541" y1="677" x2="603" y2="712.4" stroke="#222" stroke-width="0.9" stroke-linecap="butt" stroke-dasharray="20 3 4 3"/>
<line x1="626" y1="725.6" x2="632.1" y2="729.7" stroke="#111" stroke-width="0.9" stroke-linecap="butt"/>
<line x1="632.1" y1="729.7" x2="632.1" y2="759.6" stroke="#222" stroke-width="0.9" stroke-linecap="butt" stroke-dasharray="10 3"/>
<line x1="632.1" y1="759.6" x2="639.3" y2="763.7" stroke="#111" stroke-width="0.9" stroke-linecap="butt"/>
<line x1="535" y1="738" x2="606.3" y2="790.9" stroke="#222" stroke-width="0.9" stroke-linecap="butt" stroke-dasharray="30 4 4 4"/>
<line x1="629.5" y1="808.9" x2="663" y2="833.4" stroke="#222" stroke-width="0.9" stroke-linecap="butt" stroke-dasharray="12 3 3 3"/>
<path d="M637.2 814 L663.5 800.4" stroke="#222" stroke-width="0.9" fill="none" stroke-linejoin="round" stroke-linecap="round" stroke-dasharray="10 3" />
<line x1="663.5" y1="800.4" x2="700.3" y2="827.4" stroke="#222" stroke-width="0.9" stroke-linecap="butt" stroke-dasharray="12 3 3 3"/>
<line x1="722" y1="844" x2="732" y2="851" stroke="#111" stroke-width="0.9" stroke-linecap="butt"/>
<ellipse cx="617.2" cy="611.4" rx="14.6" ry="17.4" stroke="#111" stroke-width="1.0" fill="#262626" transform="rotate(18 617.2 611.4)"/>
<ellipse cx="615.8000000000001" cy="612.0" rx="11.6" ry="14.2" stroke="#aaa" stroke-width="0.6" fill="none" transform="rotate(18 615.8000000000001 612.0)"/>
<ellipse cx="616.2" cy="612.3" rx="9.2" ry="12.399999999999999" stroke="#111" stroke-width="1.0" fill="#fff" transform="rotate(18 616.2 612.3)"/>
<path d="M619.6 599.6 C624.8000000000001 605.4 624.8000000000001 615.4 617.8000000000001 623.4" stroke="#999" stroke-width="0.7" fill="none" stroke-linejoin="round" stroke-linecap="round" />
<ellipse cx="648.1" cy="622.8" rx="13.6" ry="17.2" stroke="#111" stroke-width="1.5" fill="#fff" transform="rotate(16 648.1 622.8)"/>
<ellipse cx="648.5" cy="623.0" rx="12.2" ry="15.6" stroke="#111" stroke-width="0.6" fill="none" transform="rotate(16 648.5 623.0)"/>
<ellipse cx="649.0" cy="623.4" rx="9.2" ry="12.399999999999999" stroke="#111" stroke-width="1.2" fill="#fff" transform="rotate(16 649.0 623.4)"/>
<ellipse cx="620.4" cy="648.7" rx="14.6" ry="17.4" stroke="#111" stroke-width="1.0" fill="#262626" transform="rotate(18 620.4 648.7)"/>
<ellipse cx="619.0" cy="649.3000000000001" rx="11.6" ry="14.2" stroke="#aaa" stroke-width="0.6" fill="none" transform="rotate(18 619.0 649.3000000000001)"/>
<ellipse cx="619.4" cy="649.6" rx="9.2" ry="12.399999999999999" stroke="#111" stroke-width="1.0" fill="#fff" transform="rotate(18 619.4 649.6)"/>
<path d="M622.8 636.9000000000001 C628.0 642.7 628.0 652.7 621.0 660.7" stroke="#999" stroke-width="0.7" fill="none" stroke-linejoin="round" stroke-linecap="round" />
<ellipse cx="652.9" cy="663.5" rx="13.6" ry="17.2" stroke="#111" stroke-width="1.5" fill="#fff" transform="rotate(16 652.9 663.5)"/>
<ellipse cx="653.3" cy="663.7" rx="12.2" ry="15.6" stroke="#111" stroke-width="0.6" fill="none" transform="rotate(16 653.3 663.7)"/>
<ellipse cx="653.8" cy="664.1" rx="9.2" ry="12.399999999999999" stroke="#111" stroke-width="1.2" fill="#fff" transform="rotate(16 653.8 664.1)"/>
<line x1="606" y1="605.6" x2="626" y2="613.2" stroke="#111" stroke-width="0.8" stroke-linecap="butt"/>
<line x1="641" y1="619.4" x2="656" y2="625.6" stroke="#222" stroke-width="0.8" stroke-linecap="butt" stroke-dasharray="8 2"/>
<line x1="609" y1="643.4" x2="629" y2="652.2" stroke="#111" stroke-width="0.8" stroke-linecap="butt"/>
<line x1="645" y1="660" x2="661" y2="667" stroke="#222" stroke-width="0.8" stroke-linecap="butt" stroke-dasharray="8 2"/>
<path d="M627.8 592.9 L643.6 583.6 L679.9 598 L661.3 609" stroke="#111" stroke-width="0.9" fill="none" stroke-linejoin="miter" stroke-linecap="butt" />
<line x1="663" y1="589.7" x2="673.5" y2="583.6" stroke="#111" stroke-width="0.9" stroke-linecap="butt"/>
<path d="M636.8 647.2 L644.5 647.2 L662.6 636.6 L683.8 646.7 L669.6 655.3" stroke="#111" stroke-width="0.9" fill="none" stroke-linejoin="miter" stroke-linecap="butt" />
<line x1="675.4" y1="640.7" x2="685.1" y2="635.1" stroke="#111" stroke-width="0.9" stroke-linecap="butt"/>
<ellipse cx="614.8" cy="687.9" rx="10.2" ry="12.8" stroke="#111" stroke-width="2.2" fill="#fff" transform="rotate(18 614.8 687.9)"/>
<ellipse cx="615.0" cy="688.1" rx="7.8" ry="10.4" stroke="#111" stroke-width="0.9" fill="#fff" transform="rotate(18 615.0 688.1)"/>
<ellipse cx="614.8" cy="719.1" rx="10.2" ry="12.8" stroke="#111" stroke-width="2.2" fill="#fff" transform="rotate(18 614.8 719.1)"/>
<ellipse cx="615.0" cy="719.3000000000001" rx="7.8" ry="10.4" stroke="#111" stroke-width="0.9" fill="#fff" transform="rotate(18 615.0 719.3000000000001)"/>
<line x1="606" y1="682.8" x2="624" y2="693" stroke="#111" stroke-width="0.8" stroke-linecap="butt"/>
<line x1="606" y1="713.6" x2="624" y2="724.2" stroke="#111" stroke-width="0.8" stroke-linecap="butt"/>
<path d="M634.4 698 C636 694.4 641 692.6 645.6 694.2 L650.4 698.4 L648.6 702.6 C646.6 700.6 644.8 699.8 642.6 699.6 L640.4 702 Z" stroke="#111" stroke-width="1.0" fill="#fff" stroke-linejoin="round" stroke-linecap="round" />
<path d="M637 696.4 L641.6 700.2 M645.6 694.2 L648.4 699.6" stroke="#111" stroke-width="0.8" fill="none" stroke-linejoin="round" stroke-linecap="round" />
<line x1="647.5" y1="696.4" x2="661.9" y2="688.5" stroke="#111" stroke-width="0.9" stroke-linecap="butt"/>
<path d="M651 703.4 C654 701.4 657 701.2 660 702.6 L674 710.6 C677 712.6 677.6 715 676.8 717.6 L675 723 C673.6 725.6 670 726.2 667 725 L649 718.6 C646.6 717.4 646 715 647 712.6 Z" stroke="#111" stroke-width="1.2" fill="#fff" stroke-linejoin="round" stroke-linecap="round" />
<path d="M647.2 713 C649 711.4 651 711.6 653 712.6 L668 719.4 C670 720.6 672.4 720.2 674 718.6" stroke="#111" stroke-width="0.9" fill="none" stroke-linejoin="round" stroke-linecap="round" />
<path d="M650 715 L666 722 C667.6 722.8 668.6 722.6 669.4 721.6" stroke="#111" stroke-width="1.6" fill="none" stroke-linejoin="round" stroke-linecap="round" />
<ellipse cx="673" cy="721.6" rx="1.4" ry="2" stroke="#111" stroke-width="0.9" fill="#333" transform="rotate(20 673 721.6)"/>
<path d="M673.2 777.4 C676.2 775.4 679.2 775.2 682.2 776.6 L696.2 784.6 C699.2 786.6 699.8000000000001 789 699.0 791.6 L697.2 797 C695.8000000000001 799.6 692.2 800.2 689.2 799 L671.2 792.6 C668.8000000000001 791.4 668.2 789 669.2 786.6 Z" stroke="#111" stroke-width="1.2" fill="#fff" stroke-linejoin="round" stroke-linecap="round" />
<path d="M669.4000000000001 787 C671.2 785.4 673.2 785.6 675.2 786.6 L690.2 793.4 C692.2 794.6 694.6 794.2 696.2 792.6" stroke="#111" stroke-width="0.9" fill="none" stroke-linejoin="round" stroke-linecap="round" />
<path d="M672.2 789 L688.2 796 C689.8000000000001 796.8 690.8000000000001 796.6 691.6 795.6" stroke="#111" stroke-width="1.6" fill="none" stroke-linejoin="round" stroke-linecap="round" />
<ellipse cx="695.2" cy="795.6" rx="1.4" ry="2" stroke="#111" stroke-width="0.9" fill="#333" transform="rotate(20 695.2 795.6)"/>
<path d="M665 704 L686.6 691.6 L720.6 711.2 L718.6 712.9" stroke="#111" stroke-width="0.9" fill="none" stroke-linejoin="miter" stroke-linecap="butt" />
<line x1="700" y1="698.8" x2="704.1" y2="695.7" stroke="#111" stroke-width="0.9" stroke-linecap="butt"/>
<line x1="714.4" y1="707.5" x2="683.5" y2="724" stroke="#111" stroke-width="0.9" stroke-linecap="butt"/>
<line x1="690.8" y1="728.7" x2="696.9" y2="725.6" stroke="#111" stroke-width="0.9" stroke-linecap="butt"/>
<ellipse cx="679.6" cy="725.2" rx="1.8" ry="2" stroke="#111" stroke-width="0.9" fill="#222"/>
<path d="M686 729.6 C686.6 728.2 688.6 727.8 690 728.4 L692.6 729.8 C693.2 731.4 692.2 733.2 690.6 733.6 C689 734 686.6 732.6 686 731 Z" stroke="#111" stroke-width="0.9" fill="#fff" stroke-linejoin="round" stroke-linecap="round" />
<line x1="682" y1="726.4" x2="685.4" y2="728.6" stroke="#222" stroke-width="0.8" stroke-linecap="butt" stroke-dasharray="2 1"/>
<path d="M638.6 761 L642.6 758 L648 757.6 L653 760.6 L653.6 768 L650.6 773 L645 774 L640 772.6 L636.6 768.6 L636.4 764 Z" stroke="#111" stroke-width="1.1" fill="#fff" stroke-linejoin="round" stroke-linecap="round" />
<path d="M642.6 758 L643 766.6 L640 772.6 M648 757.6 L648.6 766 L645 774 M648.6 766 L653.6 768" stroke="#111" stroke-width="0.9" fill="none" stroke-linejoin="round" stroke-linecap="round" />
<ellipse cx="641.4" cy="766" rx="3" ry="5.6" stroke="#111" stroke-width="0.9" fill="none" transform="rotate(10 641.4 766)"/>
<path d="M655 771 L659 770.6 L667.6 776 L668 780.4 L664.6 782.4 L656.6 778.6 L653.6 774.6 Z" stroke="#111" stroke-width="0.9" fill="#2a2a2a" stroke-linejoin="round" stroke-linecap="round" />
<line x1="659.0" y1="771.6" x2="658.0" y2="779.0" stroke="#ccc" stroke-width="0.5" stroke-linecap="butt"/>
<line x1="661.2" y1="773.0" x2="660.2" y2="780.2" stroke="#ccc" stroke-width="0.5" stroke-linecap="butt"/>
<line x1="663.4" y1="774.4" x2="662.4" y2="781.4" stroke="#ccc" stroke-width="0.5" stroke-linecap="butt"/>
<line x1="665.6" y1="775.8000000000001" x2="664.6" y2="782.6" stroke="#ccc" stroke-width="0.5" stroke-linecap="butt"/>
<ellipse cx="656.4" cy="774.8" rx="2.2" ry="3.6" stroke="#111" stroke-width="0.9" fill="#fff" transform="rotate(15 656.4 774.8)"/>
<path d="M651 760.6 L682.5 743.1 L757.6 785.2 L746.4 791" stroke="#111" stroke-width="0.9" fill="none" stroke-linejoin="miter" stroke-linecap="butt" />
<line x1="699" y1="752.4" x2="667.1" y2="770.9" stroke="#111" stroke-width="0.9" stroke-linecap="butt"/>
<line x1="707.8" y1="757.5" x2="715" y2="752.8" stroke="#111" stroke-width="0.9" stroke-linecap="butt"/>
<line x1="720.6" y1="764.7" x2="691.8" y2="781.2" stroke="#111" stroke-width="0.9" stroke-linecap="butt"/>
<line x1="743.3" y1="778.1" x2="706.2" y2="798.7" stroke="#111" stroke-width="0.9" stroke-linecap="butt"/>
<line x1="700.6" y1="798.6" x2="708.6" y2="803.6" stroke="#222" stroke-width="2.4" stroke-linecap="butt"/>
<line x1="700.6" y1="798.6" x2="708.6" y2="803.6" stroke="#ccc" stroke-width="1.2" stroke-linecap="butt" stroke-dasharray="0.7 1"/>
<ellipse cx="709.6" cy="804.2" rx="1.4" ry="1.8" stroke="#111" stroke-width="0.8" fill="#fff"/>
<path d="M712 806 C712.6 804.6 714.6 804 716 804.6 L719.8 806 C720.6 807.6 719.4 809.6 717.6 810 C715.6 810.4 712.6 809 712 807.4 Z" stroke="#111" stroke-width="0.9" fill="#fff" stroke-linejoin="round" stroke-linecap="round" />
<line x1="711" y1="805.2" x2="718.4" y2="801.2" stroke="#111" stroke-width="0.8" stroke-linecap="butt"/>
<ellipse cx="620.8" cy="802.4" rx="14.2" ry="16.6" stroke="#111" stroke-width="1.0" fill="#262626" transform="rotate(26 620.8 802.4)"/>
<ellipse cx="619.4" cy="803.0" rx="11.2" ry="13.400000000000002" stroke="#aaa" stroke-width="0.6" fill="none" transform="rotate(26 619.4 803.0)"/>
<ellipse cx="619.8" cy="803.3" rx="8.799999999999999" ry="11.600000000000001" stroke="#111" stroke-width="1.0" fill="#fff" transform="rotate(26 619.8 803.3)"/>
<path d="M623.1999999999999 791.4 C628.4 796.4 628.4 806.4 621.4 813.6" stroke="#999" stroke-width="0.7" fill="none" stroke-linejoin="round" stroke-linecap="round" />
<ellipse cx="651.1" cy="824.7" rx="14" ry="16.2" stroke="#111" stroke-width="1.5" fill="#fff" transform="rotate(24 651.1 824.7)"/>
<ellipse cx="651.5" cy="824.9000000000001" rx="12.6" ry="14.6" stroke="#111" stroke-width="0.6" fill="none" transform="rotate(24 651.5 824.9000000000001)"/>
<ellipse cx="652.0" cy="825.3000000000001" rx="9.6" ry="11.399999999999999" stroke="#111" stroke-width="1.2" fill="#fff" transform="rotate(24 652.0 825.3000000000001)"/>
<line x1="612" y1="796" x2="632" y2="810" stroke="#111" stroke-width="0.8" stroke-linecap="butt"/>
<line x1="644" y1="820" x2="660" y2="831.6" stroke="#222" stroke-width="0.8" stroke-linecap="butt" stroke-dasharray="8 2"/>
<path d="M604.3 814 L590.4 822.5 L619.7 844.9 L634.6 837.2" stroke="#111" stroke-width="0.9" fill="none" stroke-linejoin="miter" stroke-linecap="butt" />
<line x1="590.4" y1="842.4" x2="603.8" y2="832.9" stroke="#111" stroke-width="0.9" stroke-linecap="butt"/>
<ellipse cx="708.1" cy="835.0" rx="10.8" ry="16.2" stroke="#111" stroke-width="1.2" fill="#fff" transform="rotate(24 708.1 835.0)"/>
<polygon points="725.1,825.85 715.2,820.45 701.0,849.55 710.9,854.95" fill="#fff"/>
<line x1="725.1" y1="825.85" x2="715.2" y2="820.45" stroke="#111" stroke-width="1.2" stroke-linecap="butt"/>
<line x1="710.9" y1="854.95" x2="701.0" y2="849.55" stroke="#111" stroke-width="1.2" stroke-linecap="butt"/>
<ellipse cx="718" cy="840.4" rx="10.8" ry="16.2" stroke="#111" stroke-width="1.2" fill="#fff" transform="rotate(24 718 840.4)"/>
<ellipse cx="718.3" cy="840.6" rx="9.4" ry="14.399999999999999" stroke="#111" stroke-width="0.7" fill="#fff" transform="rotate(24 718.3 840.6)"/>
<ellipse cx="718.8" cy="840.9" rx="8.200000000000001" ry="12.799999999999999" stroke="#111" stroke-width="1.0" fill="#fff" transform="rotate(24 718.8 840.9)"/>
<ellipse cx="713.4" cy="837.9" rx="10.8" ry="16.2" stroke="#111" stroke-width="0.8" fill="none" transform="rotate(24 713.4 837.9)"/>
<ellipse cx="718.6" cy="840.8" rx="8.6" ry="13.6" stroke="#111" stroke-width="1.6" fill="none" transform="rotate(24 718.6 840.8)"/>
<line x1="712" y1="833.4" x2="728.6" y2="848.6" stroke="#111" stroke-width="0.8" stroke-linecap="butt"/>
<line x1="686.1" y1="857.3" x2="699" y2="850.6" stroke="#111" stroke-width="0.9" stroke-linecap="butt"/>
<path d="M763 0 H583 V1147 Q518 1085 412.5 1023 Q307 961 223 930 V1104 Q374 1175 487 1276 Q600 1377 647 1472 H763 Z" fill="#111" transform="translate(422.40 123.60) scale(0.01074 -0.01074)"/>
<path d="M763 0 H583 V1147 Q518 1085 412.5 1023 Q307 961 223 930 V1104 Q374 1175 487 1276 Q600 1377 647 1472 H763 Z" fill="#111" transform="translate(437.80 156.00) scale(0.01074 -0.01074)"/>
<text x="450.03" y="156" font-size="22" fill="#111">7</text>
<text x="371.90" y="185.8" font-size="22" fill="#111">2</text>
<text x="114.32" y="189.6" font-size="22" fill="#111">3</text>
<text x="226.12" y="354.5" font-size="22" fill="#111">8</text>
<text x="235.32" y="379.5" font-size="22" fill="#111">8</text>
<path d="M763 0 H583 V1147 Q518 1085 412.5 1023 Q307 961 223 930 V1104 Q374 1175 487 1276 Q600 1377 647 1472 H763 Z" fill="#111" transform="translate(311.10 343.40) scale(0.01074 -0.01074)"/>
<text x="323.33" y="343.4" font-size="22" fill="#111">5</text>
<path d="M763 0 H583 V1147 Q518 1085 412.5 1023 Q307 961 223 930 V1104 Q374 1175 487 1276 Q600 1377 647 1472 H763 Z" fill="#111" transform="translate(259.30 462.60) scale(0.01074 -0.01074)"/>
<path d="M763 0 H583 V1147 Q518 1085 412.5 1023 Q307 961 223 930 V1104 Q374 1175 487 1276 Q600 1377 647 1472 H763 Z" fill="#111" transform="translate(271.53 462.60) scale(0.01074 -0.01074)"/>
<path d="M763 0 H583 V1147 Q518 1085 412.5 1023 Q307 961 223 930 V1104 Q374 1175 487 1276 Q600 1377 647 1472 H763 Z" fill="#111" transform="translate(448.60 467.40) scale(0.01074 -0.01074)"/>
<text x="460.83" y="467.4" font-size="22" fill="#111">0</text>
<path d="M763 0 H583 V1147 Q518 1085 412.5 1023 Q307 961 223 930 V1104 Q374 1175 487 1276 Q600 1377 647 1472 H763 Z" fill="#111" transform="translate(283.80 603.40) scale(0.01074 -0.01074)"/>
<text x="296.03" y="603.4" font-size="22" fill="#111">4</text>
<path d="M763 0 H583 V1147 Q518 1085 412.5 1023 Q307 961 223 930 V1104 Q374 1175 487 1276 Q600 1377 647 1472 H763 Z" fill="#111" transform="translate(341.90 623.20) scale(0.01074 -0.01074)"/>
<text x="354.13" y="623.2" font-size="22" fill="#111">3</text>
<text x="419.10" y="623.2" font-size="22" fill="#111">9</text>
<text x="674.82" y="580" font-size="22" fill="#111">5</text>
<text x="686.12" y="631.2" font-size="22" fill="#111">5</text>
<path d="M763 0 H583 V1147 Q518 1085 412.5 1023 Q307 961 223 930 V1104 Q374 1175 487 1276 Q600 1377 647 1472 H763 Z" fill="#111" transform="translate(664.80 689.20) scale(0.01074 -0.01074)"/>
<text x="677.03" y="689.2" font-size="22" fill="#111">6</text>
<text x="703.02" y="695.8" font-size="22" fill="#111">8</text>
<path d="M763 0 H583 V1147 Q518 1085 412.5 1023 Q307 961 223 930 V1104 Q374 1175 487 1276 Q600 1377 647 1472 H763 Z" fill="#111" transform="translate(712.80 752.50) scale(0.01074 -0.01074)"/>
<text x="725.03" y="752.5" font-size="22" fill="#111">2</text>
<text x="575.32" y="861.6" font-size="22" fill="#111">5</text>
<text x="670.30" y="875.3" font-size="22" fill="#111">6</text>
<text x="239.10" y="679.3" font-size="22" fill="#111">7</text>
<text x="130.16" y="701.9" font-size="22" fill="#111">4</text>
<path d="M763 0 H583 V1147 Q518 1085 412.5 1023 Q307 961 223 930 V1104 Q374 1175 487 1276 Q600 1377 647 1472 H763 Z" fill="#111" transform="translate(361.76 371.60) scale(0.00732 -0.00732)"/>
<text x="370.10" y="371.6" font-size="15" fill="#111">5</text>
<text x="378.44" y="371.6" font-size="15" fill="#111">.</text>
<path d="M763 0 H583 V1147 Q518 1085 412.5 1023 Q307 961 223 930 V1104 Q374 1175 487 1276 Q600 1377 647 1472 H763 Z" fill="#111" transform="translate(382.61 371.60) scale(0.00732 -0.00732)"/>
<path d="M763 0 H583 V1147 Q518 1085 412.5 1023 Q307 961 223 930 V1104 Q374 1175 487 1276 Q600 1377 647 1472 H763 Z" fill="#111" transform="translate(319.97 401.20) scale(0.00732 -0.00732)"/>
<text x="328.31" y="401.2" font-size="15" fill="#111">5</text>
<text x="336.64" y="401.2" font-size="15" fill="#111">.</text>
<path d="M763 0 H583 V1147 Q518 1085 412.5 1023 Q307 961 223 930 V1104 Q374 1175 487 1276 Q600 1377 647 1472 H763 Z" fill="#111" transform="translate(340.81 401.20) scale(0.00732 -0.00732)"/>
<text x="349.15" y="401.2" font-size="15" fill="#111">.</text>
<path d="M763 0 H583 V1147 Q518 1085 412.5 1023 Q307 961 223 930 V1104 Q374 1175 487 1276 Q600 1377 647 1472 H763 Z" fill="#111" transform="translate(353.32 401.20) scale(0.00732 -0.00732)"/>
<path d="M763 0 H583 V1147 Q518 1085 412.5 1023 Q307 961 223 930 V1104 Q374 1175 487 1276 Q600 1377 647 1472 H763 Z" fill="#111" transform="translate(347.76 476.00) scale(0.00732 -0.00732)"/>
<text x="356.10" y="476" font-size="15" fill="#111">0</text>
<text x="364.44" y="476" font-size="15" fill="#111">.</text>
<path d="M763 0 H583 V1147 Q518 1085 412.5 1023 Q307 961 223 930 V1104 Q374 1175 487 1276 Q600 1377 647 1472 H763 Z" fill="#111" transform="translate(368.61 476.00) scale(0.00732 -0.00732)"/>
<path d="M763 0 H583 V1147 Q518 1085 412.5 1023 Q307 961 223 930 V1104 Q374 1175 487 1276 Q600 1377 647 1472 H763 Z" fill="#111" transform="translate(300.76 484.00) scale(0.00732 -0.00732)"/>
<text x="309.10" y="484" font-size="15" fill="#111">0</text>
<text x="317.44" y="484" font-size="15" fill="#111">.</text>
<text x="321.61" y="484" font-size="15" fill="#111">2</text>
<path d="M763 0 H583 V1147 Q518 1085 412.5 1023 Q307 961 223 930 V1104 Q374 1175 487 1276 Q600 1377 647 1472 H763 Z" fill="#111" transform="translate(438.76 511.00) scale(0.00732 -0.00732)"/>
<text x="447.10" y="511" font-size="15" fill="#111">0</text>
<text x="455.44" y="511" font-size="15" fill="#111">.</text>
<text x="459.61" y="511" font-size="15" fill="#111">3</text>
<path d="M763 0 H583 V1147 Q518 1085 412.5 1023 Q307 961 223 930 V1104 Q374 1175 487 1276 Q600 1377 647 1472 H763 Z" fill="#111" transform="translate(396.97 545.00) scale(0.00732 -0.00732)"/>
<text x="405.31" y="545" font-size="15" fill="#111">0</text>
<text x="413.64" y="545" font-size="15" fill="#111">.</text>
<text x="417.81" y="545" font-size="15" fill="#111">3</text>
<text x="426.15" y="545" font-size="15" fill="#111">.</text>
<path d="M763 0 H583 V1147 Q518 1085 412.5 1023 Q307 961 223 930 V1104 Q374 1175 487 1276 Q600 1377 647 1472 H763 Z" fill="#111" transform="translate(430.32 545.00) scale(0.00732 -0.00732)"/>
<text x="165.90" y="670.3" font-size="15" fill="#111">4</text>
<text x="174.24" y="670.3" font-size="15" fill="#111">.</text>
<path d="M763 0 H583 V1147 Q518 1085 412.5 1023 Q307 961 223 930 V1104 Q374 1175 487 1276 Q600 1377 647 1472 H763 Z" fill="#111" transform="translate(178.41 670.30) scale(0.00732 -0.00732)"/>
<text x="164.30" y="742" font-size="15" fill="#111">4</text>
<text x="172.64" y="742" font-size="15" fill="#111">.</text>
<path d="M763 0 H583 V1147 Q518 1085 412.5 1023 Q307 961 223 930 V1104 Q374 1175 487 1276 Q600 1377 647 1472 H763 Z" fill="#111" transform="translate(176.81 742.00) scale(0.00732 -0.00732)"/>
<text x="697.20" y="726" font-size="15" fill="#111">8</text>
<text x="705.54" y="726" font-size="15" fill="#111">.</text>
<path d="M763 0 H583 V1147 Q518 1085 412.5 1023 Q307 961 223 930 V1104 Q374 1175 487 1276 Q600 1377 647 1472 H763 Z" fill="#111" transform="translate(709.71 726.00) scale(0.00732 -0.00732)"/>
<path d="M763 0 H583 V1147 Q518 1085 412.5 1023 Q307 961 223 930 V1104 Q374 1175 487 1276 Q600 1377 647 1472 H763 Z" fill="#111" transform="translate(722.87 801.80) scale(0.00732 -0.00732)"/>
<text x="731.21" y="801.8" font-size="15" fill="#111">2</text>
<text x="739.55" y="801.8" font-size="15" fill="#111">.</text>
<path d="M763 0 H583 V1147 Q518 1085 412.5 1023 Q307 961 223 930 V1104 Q374 1175 487 1276 Q600 1377 647 1472 H763 Z" fill="#111" transform="translate(743.72 801.80) scale(0.00732 -0.00732)"/>
</svg>
</body></html>
